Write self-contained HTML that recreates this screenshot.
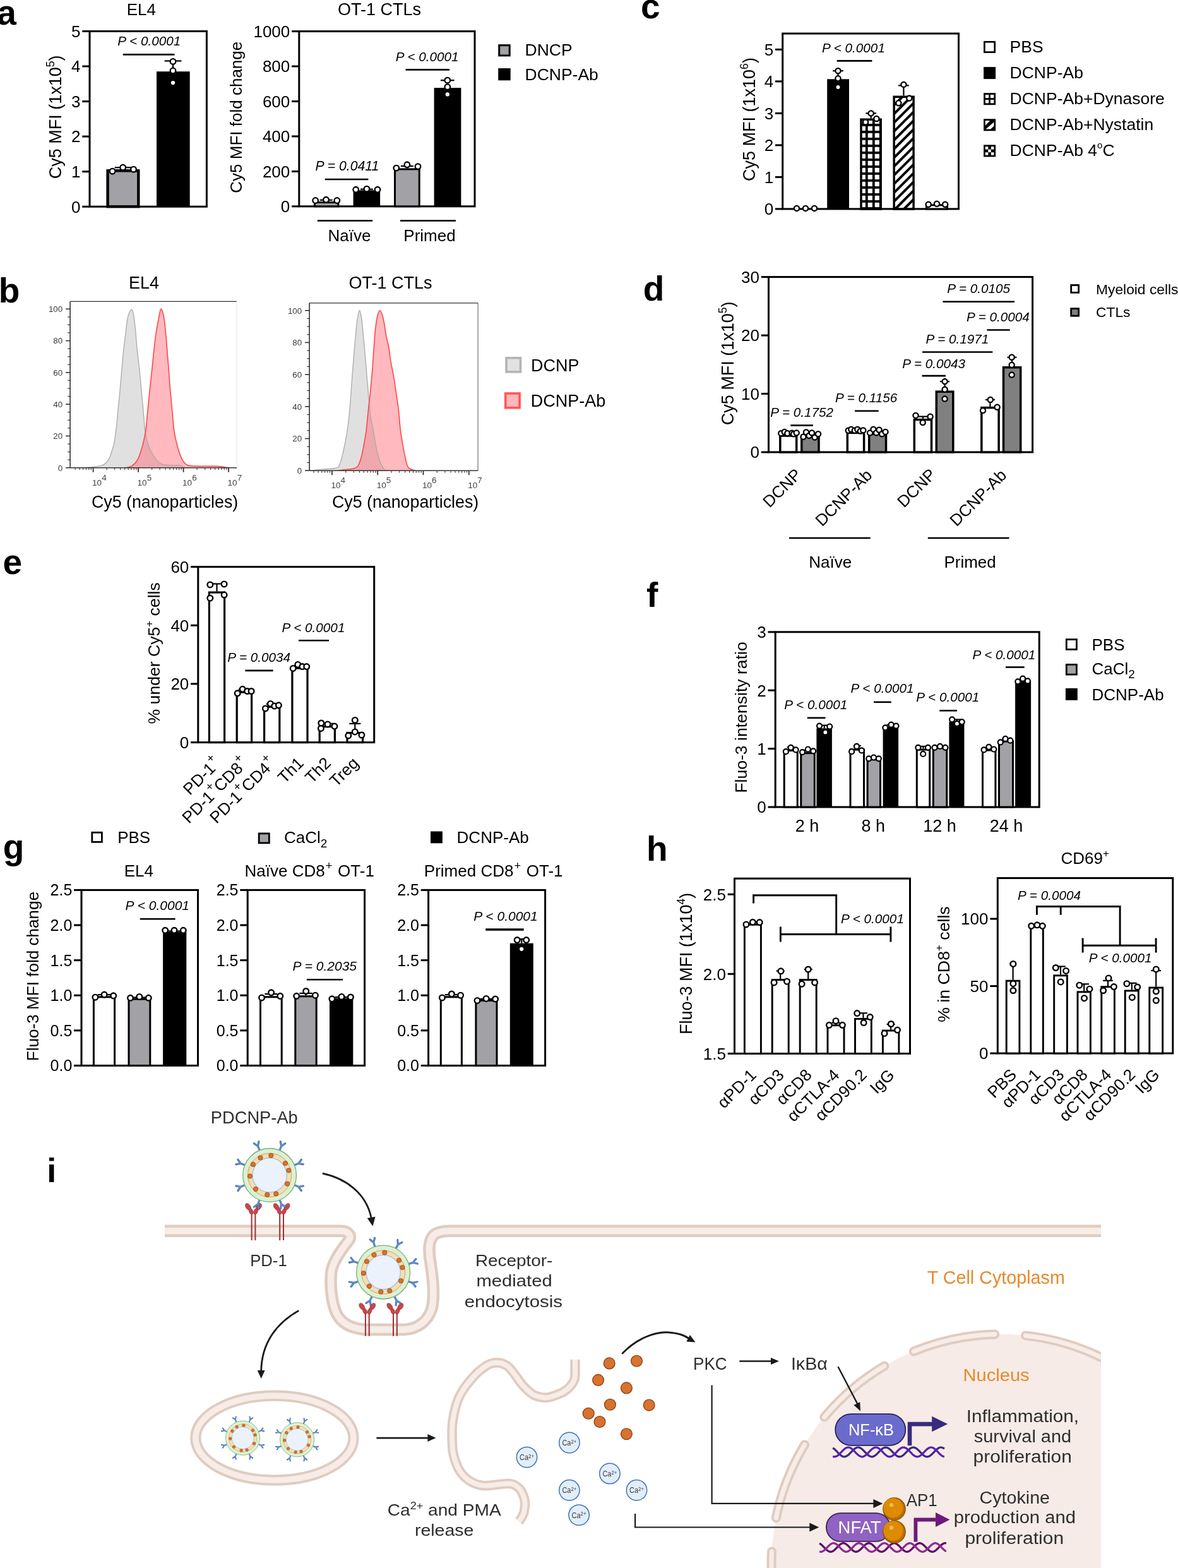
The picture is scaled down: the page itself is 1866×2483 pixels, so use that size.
<!DOCTYPE html>
<html><head><meta charset="utf-8"><style>
html,body{margin:0;padding:0;background:#fff;}
svg{display:block;}
text{font-family:'Liberation Sans', Arial, sans-serif;}
</style></head><body>
<svg width="1866" height="2483" viewBox="0 0 1866 2483">
<rect width="1866" height="2483" fill="#fff"/>
<defs>
<pattern id="grid" patternUnits="userSpaceOnUse" width="11" height="11" x="1361.8" y="197.9">
<rect width="11" height="11" fill="#000"/>
<rect x="1.9" y="1.9" width="7.2" height="7.2" fill="#fff"/>
</pattern>
<pattern id="hatch" patternUnits="userSpaceOnUse" width="9.8" height="9.8" patternTransform="rotate(-45)">
<rect width="9.8" height="9.8" fill="#fff"/>
<rect width="9.8" height="3.9" fill="#000"/>
</pattern>
<pattern id="check" patternUnits="userSpaceOnUse" width="6" height="6">
<rect width="6" height="6" fill="#fff"/>
<rect width="3" height="3" fill="#000"/><rect x="3" y="3" width="3" height="3" fill="#000"/>
</pattern>
</defs>
<text x="-4.8" y="39.3" font-size="55" font-weight="bold" >a</text>
<text x="1015.0" y="29.4" font-size="55" font-weight="bold" >c</text>
<text x="-2.3" y="479.4" font-size="55" font-weight="bold" >b</text>
<text x="1018.7" y="476.3" font-size="55" font-weight="bold" >d</text>
<text x="4.6" y="909.3" font-size="55" font-weight="bold" >e</text>
<text x="1023.9" y="960.9" font-size="55" font-weight="bold" >f</text>
<text x="4.7" y="1359.7" font-size="55" font-weight="bold" >g</text>
<text x="1024.1" y="1362.9" font-size="55" font-weight="bold" >h</text>
<text x="74.3" y="1871.9" font-size="54" font-weight="bold" >i</text>
<rect x="142.0" y="49.5" width="185.4" height="277.7" fill="none" stroke="#000" stroke-width="3"/>
<line x1="130.3" y1="327.2" x2="142.0" y2="327.2" stroke="#000" stroke-width="3" stroke-linecap="butt"/>
<text x="127.5" y="336.5" font-size="26" text-anchor="end" >0</text>
<line x1="130.3" y1="271.7" x2="142.0" y2="271.7" stroke="#000" stroke-width="3" stroke-linecap="butt"/>
<text x="127.5" y="281.0" font-size="26" text-anchor="end" >1</text>
<line x1="130.3" y1="216.1" x2="142.0" y2="216.1" stroke="#000" stroke-width="3" stroke-linecap="butt"/>
<text x="127.5" y="225.4" font-size="26" text-anchor="end" >2</text>
<line x1="130.3" y1="160.6" x2="142.0" y2="160.6" stroke="#000" stroke-width="3" stroke-linecap="butt"/>
<text x="127.5" y="169.9" font-size="26" text-anchor="end" >3</text>
<line x1="130.3" y1="105.0" x2="142.0" y2="105.0" stroke="#000" stroke-width="3" stroke-linecap="butt"/>
<text x="127.5" y="114.3" font-size="26" text-anchor="end" >4</text>
<line x1="130.3" y1="49.5" x2="142.0" y2="49.5" stroke="#000" stroke-width="3" stroke-linecap="butt"/>
<text x="127.5" y="58.8" font-size="26" text-anchor="end" >5</text>
<rect x="170.6" y="270.3" width="48.7" height="56.9" fill="#a2a1a6" stroke="#000" stroke-width="4.4"/>
<line x1="194.7" y1="268.1" x2="194.7" y2="265.3" stroke="#000" stroke-width="2.2" stroke-linecap="butt"/>
<line x1="181.7" y1="265.3" x2="207.7" y2="265.3" stroke="#000" stroke-width="2.2" stroke-linecap="butt"/>
<circle cx="178.1" cy="271.2" r="4.3" fill="#fff" stroke="#000" stroke-width="2.3"/>
<circle cx="194.7" cy="265.2" r="4.3" fill="#fff" stroke="#000" stroke-width="2.3"/>
<circle cx="211.5" cy="268.2" r="4.3" fill="#fff" stroke="#000" stroke-width="2.3"/>
<rect x="248.0" y="113.2" width="52.7" height="214.0" fill="#000"/>
<line x1="274.0" y1="113.2" x2="274.0" y2="96.5" stroke="#000" stroke-width="2.2" stroke-linecap="butt"/>
<line x1="260.6" y1="96.5" x2="287.4" y2="96.5" stroke="#000" stroke-width="2.2" stroke-linecap="butt"/>
<circle cx="274.0" cy="97.4" r="4.3" fill="#fff" stroke="#000" stroke-width="2.3"/>
<circle cx="274.0" cy="112.0" r="4.3" fill="#fff" stroke="#000" stroke-width="2.3"/>
<circle cx="274.0" cy="131.1" r="4.3" fill="#fff" stroke="#000" stroke-width="2.3"/>
<line x1="194.8" y1="86.4" x2="276.5" y2="86.4" stroke="#000" stroke-width="2.6" stroke-linecap="butt"/>
<text x="186.3" y="72.4" font-size="20.7" font-style="italic" >P &lt; 0.0001</text>
<text x="200.7" y="24.4" font-size="26"  >EL4</text>
<text x="97" y="185.4" font-size="27" text-anchor="middle" transform="rotate(-90 97 185.4)">Cy5 MFI (1x10<tspan font-size="17.6" dy="-11.4">5</tspan><tspan dy="11.4">)</tspan></text>
<rect x="473.8" y="49.6" width="278.2" height="277.2" fill="none" stroke="#000" stroke-width="3"/>
<line x1="462.1" y1="326.8" x2="473.8" y2="326.8" stroke="#000" stroke-width="3" stroke-linecap="butt"/>
<text x="459.3" y="336.1" font-size="26" text-anchor="end" >0</text>
<line x1="462.1" y1="271.4" x2="473.8" y2="271.4" stroke="#000" stroke-width="3" stroke-linecap="butt"/>
<text x="459.3" y="280.7" font-size="26" text-anchor="end" >200</text>
<line x1="462.1" y1="215.9" x2="473.8" y2="215.9" stroke="#000" stroke-width="3" stroke-linecap="butt"/>
<text x="459.3" y="225.2" font-size="26" text-anchor="end" >400</text>
<line x1="462.1" y1="160.5" x2="473.8" y2="160.5" stroke="#000" stroke-width="3" stroke-linecap="butt"/>
<text x="459.3" y="169.8" font-size="26" text-anchor="end" >600</text>
<line x1="462.1" y1="105.0" x2="473.8" y2="105.0" stroke="#000" stroke-width="3" stroke-linecap="butt"/>
<text x="459.3" y="114.3" font-size="26" text-anchor="end" >800</text>
<line x1="462.1" y1="49.6" x2="473.8" y2="49.6" stroke="#000" stroke-width="3" stroke-linecap="butt"/>
<text x="459.3" y="58.9" font-size="26" text-anchor="end" >1000</text>
<rect x="498.4" y="320.5" width="37.5" height="6.3" fill="#a2a1a6" stroke="#000" stroke-width="3.0"/>
<rect x="559.6" y="301.3" width="42.5" height="25.5" fill="#000"/>
<rect x="625.5" y="267.9" width="38.7" height="58.9" fill="#a2a1a6" stroke="#000" stroke-width="3.0"/>
<rect x="687.6" y="139.1" width="42.8" height="187.7" fill="#000"/>
<line x1="516.6" y1="319.0" x2="516.6" y2="316.8" stroke="#000" stroke-width="2.2" stroke-linecap="butt"/>
<line x1="506.6" y1="316.8" x2="526.6" y2="316.8" stroke="#000" stroke-width="2.2" stroke-linecap="butt"/>
<circle cx="499.7" cy="317.5" r="4.3" fill="#fff" stroke="#000" stroke-width="2.3"/>
<circle cx="516.5" cy="316.3" r="4.3" fill="#fff" stroke="#000" stroke-width="2.3"/>
<circle cx="533.8" cy="317.5" r="4.3" fill="#fff" stroke="#000" stroke-width="2.3"/>
<line x1="580.9" y1="301.3" x2="580.9" y2="299.6" stroke="#000" stroke-width="2.2" stroke-linecap="butt"/>
<line x1="570.9" y1="299.6" x2="590.9" y2="299.6" stroke="#000" stroke-width="2.2" stroke-linecap="butt"/>
<circle cx="563.7" cy="300.3" r="4.3" fill="#fff" stroke="#000" stroke-width="2.3"/>
<circle cx="580.9" cy="299.2" r="4.3" fill="#fff" stroke="#000" stroke-width="2.3"/>
<circle cx="598.0" cy="300.3" r="4.3" fill="#fff" stroke="#000" stroke-width="2.3"/>
<line x1="644.9" y1="266.4" x2="644.9" y2="263.0" stroke="#000" stroke-width="2.2" stroke-linecap="butt"/>
<line x1="634.9" y1="263.0" x2="654.9" y2="263.0" stroke="#000" stroke-width="2.2" stroke-linecap="butt"/>
<circle cx="627.8" cy="266.1" r="4.3" fill="#fff" stroke="#000" stroke-width="2.3"/>
<circle cx="644.9" cy="260.8" r="4.3" fill="#fff" stroke="#000" stroke-width="2.3"/>
<circle cx="662.0" cy="263.6" r="4.3" fill="#fff" stroke="#000" stroke-width="2.3"/>
<line x1="708.8" y1="139.1" x2="708.8" y2="127.2" stroke="#000" stroke-width="2.2" stroke-linecap="butt"/>
<line x1="698.0" y1="127.2" x2="719.6" y2="127.2" stroke="#000" stroke-width="2.2" stroke-linecap="butt"/>
<circle cx="708.8" cy="127.2" r="4.3" fill="#fff" stroke="#000" stroke-width="2.3"/>
<circle cx="708.8" cy="137.7" r="4.3" fill="#fff" stroke="#000" stroke-width="2.3"/>
<circle cx="708.8" cy="149.4" r="4.3" fill="#fff" stroke="#000" stroke-width="2.3"/>
<line x1="514.7" y1="284.0" x2="583.4" y2="284.0" stroke="#000" stroke-width="2.6" stroke-linecap="butt"/>
<text x="499.6" y="270.0" font-size="21.2" font-style="italic" >P = 0.0411</text>
<line x1="642.6" y1="110.4" x2="712.1" y2="110.4" stroke="#000" stroke-width="2.6" stroke-linecap="butt"/>
<text x="626.7" y="96.5" font-size="20.7" font-style="italic" >P &lt; 0.0001</text>
<line x1="502.8" y1="349.5" x2="590.2" y2="349.5" stroke="#000" stroke-width="2.6" stroke-linecap="butt"/>
<line x1="633.9" y1="349.5" x2="722.0" y2="349.5" stroke="#000" stroke-width="2.6" stroke-linecap="butt"/>
<text x="553.5" y="382.0" font-size="26" text-anchor="middle" >Naïve</text>
<text x="680.5" y="382.0" font-size="26" text-anchor="middle" >Primed</text>
<text x="601.0" y="23.8" font-size="27" text-anchor="middle" >OT-1 CTLs</text>
<text x="383" y="185.7" font-size="26" text-anchor="middle" transform="rotate(-90 383 185.7)">Cy5 MFI fold change</text>
<rect x="790.7" y="71.7" width="16.5" height="16.2" fill="#a2a1a6" stroke="#000" stroke-width="3" />
<text x="831.5" y="88.0" font-size="26.5"  >DNCP</text>
<rect x="789.2" y="108.1" width="19.5" height="19.2" fill="#000" />
<text x="831.5" y="126.7" font-size="26.5"  >DCNP-Ab</text>
<rect x="1239.7" y="53.1" width="278.8" height="277.8" fill="none" stroke="#000" stroke-width="3"/>
<line x1="1228.0" y1="330.9" x2="1239.7" y2="330.9" stroke="#000" stroke-width="3" stroke-linecap="butt"/>
<text x="1225.2" y="340.2" font-size="26" text-anchor="end" >0</text>
<line x1="1228.0" y1="280.4" x2="1239.7" y2="280.4" stroke="#000" stroke-width="3" stroke-linecap="butt"/>
<text x="1225.2" y="289.7" font-size="26" text-anchor="end" >1</text>
<line x1="1228.0" y1="229.9" x2="1239.7" y2="229.9" stroke="#000" stroke-width="3" stroke-linecap="butt"/>
<text x="1225.2" y="239.2" font-size="26" text-anchor="end" >2</text>
<line x1="1228.0" y1="179.4" x2="1239.7" y2="179.4" stroke="#000" stroke-width="3" stroke-linecap="butt"/>
<text x="1225.2" y="188.7" font-size="26" text-anchor="end" >3</text>
<line x1="1228.0" y1="128.9" x2="1239.7" y2="128.9" stroke="#000" stroke-width="3" stroke-linecap="butt"/>
<text x="1225.2" y="138.2" font-size="26" text-anchor="end" >4</text>
<line x1="1228.0" y1="78.4" x2="1239.7" y2="78.4" stroke="#000" stroke-width="3" stroke-linecap="butt"/>
<text x="1225.2" y="87.7" font-size="26" text-anchor="end" >5</text>
<circle cx="1262.0" cy="329.9" r="4.1" fill="#fff" stroke="#000" stroke-width="2.3"/>
<circle cx="1276.0" cy="329.9" r="4.1" fill="#fff" stroke="#000" stroke-width="2.3"/>
<circle cx="1290.0" cy="329.9" r="4.1" fill="#fff" stroke="#000" stroke-width="2.3"/>
<rect x="1310.2" y="125.3" width="34.8" height="205.6" fill="#000"/>
<line x1="1327.5" y1="125.3" x2="1327.5" y2="112.2" stroke="#000" stroke-width="2.2" stroke-linecap="butt"/>
<line x1="1319.2" y1="112.2" x2="1335.8" y2="112.2" stroke="#000" stroke-width="2.2" stroke-linecap="butt"/>
<circle cx="1327.5" cy="112.2" r="4.1" fill="#fff" stroke="#000" stroke-width="2.3"/>
<circle cx="1327.5" cy="124.3" r="4.1" fill="#fff" stroke="#000" stroke-width="2.3"/>
<circle cx="1327.5" cy="138.0" r="4.1" fill="#fff" stroke="#000" stroke-width="2.3"/>
<rect x="1364.0" y="189.2" width="31.2" height="141.7" fill="url(#grid)" stroke="#000" stroke-width="3.5"/>
<line x1="1379.7" y1="187.5" x2="1379.7" y2="179.4" stroke="#000" stroke-width="2.2" stroke-linecap="butt"/>
<line x1="1371.4" y1="179.4" x2="1388.0" y2="179.4" stroke="#000" stroke-width="2.2" stroke-linecap="butt"/>
<circle cx="1379.7" cy="179.4" r="4.1" fill="#fff" stroke="#000" stroke-width="2.3"/>
<circle cx="1371.1" cy="193.5" r="4.1" fill="#fff" stroke="#000" stroke-width="2.3"/>
<circle cx="1388.4" cy="188.0" r="4.1" fill="#fff" stroke="#000" stroke-width="2.3"/>
<rect x="1416.2" y="153.3" width="30.9" height="177.6" fill="url(#hatch)" stroke="#000" stroke-width="3.5"/>
<line x1="1431.4" y1="151.6" x2="1431.4" y2="135.4" stroke="#000" stroke-width="2.2" stroke-linecap="butt"/>
<line x1="1423.1" y1="135.4" x2="1439.7" y2="135.4" stroke="#000" stroke-width="2.2" stroke-linecap="butt"/>
<circle cx="1431.4" cy="133.9" r="4.1" fill="#fff" stroke="#000" stroke-width="2.3"/>
<circle cx="1423.4" cy="163.2" r="4.1" fill="#fff" stroke="#000" stroke-width="2.3"/>
<circle cx="1440.3" cy="155.6" r="4.1" fill="#fff" stroke="#000" stroke-width="2.3"/>
<rect x="1467.5" y="324.8" width="33.0" height="6.1" fill="#fff" stroke="#000" stroke-width="3"/>
<circle cx="1470.7" cy="323.8" r="4.1" fill="#fff" stroke="#000" stroke-width="2.3"/>
<circle cx="1484.0" cy="322.8" r="4.1" fill="#fff" stroke="#000" stroke-width="2.3"/>
<circle cx="1497.2" cy="323.8" r="4.1" fill="#fff" stroke="#000" stroke-width="2.3"/>
<line x1="1325.7" y1="96.4" x2="1381.4" y2="96.4" stroke="#000" stroke-width="2.6" stroke-linecap="butt"/>
<text x="1302.0" y="83.4" font-size="20.7" font-style="italic" >P &lt; 0.0001</text>
<text x="1196" y="189" font-size="27" text-anchor="middle" transform="rotate(-90 1196 189)">Cy5 MFI (1x10<tspan font-size="17.6" dy="-11.4">6</tspan><tspan dy="11.4">)</tspan></text>
<rect x="1559.4" y="66.3" width="16.3" height="16.3" fill="#fff" stroke="#000" stroke-width="2.7" />
<text x="1599.6" y="82.6" font-size="26.5"  >PBS</text>
<rect x="1558.1" y="106.1" width="19.0" height="19.0" fill="#000" />
<text x="1599.6" y="123.7" font-size="26.5"  >DCNP-Ab</text>
<rect x="1558.1" y="147.2" width="19.0" height="19.0" fill="#000" />
<rect x="1560.9" y="150.0" width="5.2" height="5.2" fill="#fff" />
<rect x="1560.9" y="158.0" width="5.2" height="5.4" fill="#fff" />
<rect x="1568.9" y="150.0" width="5.4" height="5.2" fill="#fff" />
<rect x="1568.9" y="158.0" width="5.4" height="5.4" fill="#fff" />
<text x="1599.6" y="164.8" font-size="26.5"  >DCNP-Ab+Dynasore</text>
<rect x="1558.1" y="188.3" width="19.0" height="19.0" fill="#000" />
<path d="M1560.8 191.0H1568.1L1560.8 198.8Z M1574.4 193.3V199.8L1569.1 204.6H1561.6Z" fill="#fff"/>
<text x="1599.6" y="205.9" font-size="26.5"  >DCNP-Ab+Nystatin</text>
<rect x="1558.1" y="229.4" width="19.0" height="19.0" fill="#000" />
<rect x="1560.8" y="232.1" width="4.5" height="4.5" fill="#fff" />
<rect x="1569.9" y="232.1" width="4.5" height="4.5" fill="#fff" />
<rect x="1565.3" y="236.6" width="4.5" height="4.5" fill="#fff" />
<rect x="1560.8" y="241.2" width="4.5" height="4.5" fill="#fff" />
<rect x="1569.9" y="241.2" width="4.5" height="4.5" fill="#fff" />
<text x="1599.6" y="247.0" font-size="26.5">DCNP-Ab 4<tspan font-size="15" dy="-12">o</tspan><tspan dy="12">C</tspan></text>
<path d="M117.00 740.70 C121.13 740.57 134.25 740.62 141.80 739.95 C149.35 739.28 157.35 738.56 162.30 736.68 C167.25 734.79 169.12 732.03 171.50 728.63 C173.88 725.24 175.07 720.76 176.60 716.31 C178.13 711.87 179.50 707.77 180.70 701.98 C181.90 696.20 182.78 690.13 183.80 681.62 C184.82 673.12 185.78 661.22 186.80 650.95 C187.82 640.68 188.70 633.14 189.90 620.03 C191.10 606.91 192.98 583.58 194.00 572.26 C195.02 560.95 195.15 559.69 196.00 552.15 C196.85 544.61 198.23 534.13 199.10 527.01 C199.97 519.89 200.52 514.02 201.20 509.41 C201.88 504.80 202.12 502.50 203.20 499.36 C204.28 496.21 206.33 490.98 207.70 490.56 C209.07 490.14 210.27 491.60 211.40 496.84 C212.53 502.08 213.55 512.76 214.50 521.98 C215.45 531.20 216.08 542.09 217.10 552.15 C218.12 562.21 219.50 571.84 220.60 582.32 C221.70 592.79 222.68 604.11 223.70 615.00 C224.72 625.89 225.68 636.58 226.70 647.68 C227.72 658.79 228.60 672.57 229.80 681.62 C231.00 690.67 232.20 696.20 233.90 701.98 C235.60 707.77 237.62 711.87 240.00 716.31 C242.38 720.76 245.47 725.53 248.20 728.63 C250.93 731.73 252.98 733.58 256.40 734.92 C259.82 736.26 263.93 736.34 268.70 736.68 C273.47 737.01 281.25 736.38 285.00 736.93 C288.75 737.47 288.70 739.32 291.20 739.95 C293.70 740.57 298.53 740.57 300.00 740.70 L300.0 740.7 L117.0 740.7Z" fill="#e0e0e0"/>
<path d="M199.10 740.70 C200.80 740.20 206.23 739.69 209.30 737.68 C212.37 735.67 215.28 732.19 217.50 728.63 C219.72 725.07 221.07 720.76 222.60 716.31 C224.13 711.87 225.33 707.77 226.70 701.98 C228.07 696.20 229.60 690.13 230.80 681.62 C232.00 673.12 232.87 661.22 233.90 650.95 C234.93 640.68 235.82 631.47 237.00 620.03 C238.18 608.59 239.82 593.63 241.00 582.32 C242.18 571.00 243.07 561.37 244.10 552.15 C245.13 542.93 246.00 534.97 247.20 527.01 C248.40 519.05 250.00 510.67 251.30 504.38 C252.60 498.10 253.63 489.72 255.00 489.30 C256.37 488.88 258.25 495.59 259.50 501.87 C260.75 508.15 261.65 518.63 262.50 527.01 C263.35 535.39 263.85 542.93 264.60 552.15 C265.35 561.37 266.15 571.42 267.00 582.32 C267.85 593.21 268.73 606.08 269.70 617.51 C270.67 628.95 271.78 640.27 272.80 650.95 C273.82 661.63 274.62 673.12 275.80 681.62 C276.98 690.13 278.53 696.20 279.90 701.98 C281.27 707.77 282.47 711.87 284.00 716.31 C285.53 720.76 286.88 725.24 289.10 728.63 C291.32 732.03 292.87 735.09 297.30 736.68 C301.73 738.27 308.20 737.93 315.70 738.19 C323.20 738.44 336.15 738.02 342.30 738.19 C348.45 738.35 349.18 738.77 352.60 739.19 C356.02 739.61 361.10 740.45 362.80 740.70 L362.8 740.7 L199.1 740.7Z" fill="#ff6470" fill-opacity="0.45"/>
<path d="M117.00 740.70 C121.13 740.57 134.25 740.62 141.80 739.95 C149.35 739.28 157.35 738.56 162.30 736.68 C167.25 734.79 169.12 732.03 171.50 728.63 C173.88 725.24 175.07 720.76 176.60 716.31 C178.13 711.87 179.50 707.77 180.70 701.98 C181.90 696.20 182.78 690.13 183.80 681.62 C184.82 673.12 185.78 661.22 186.80 650.95 C187.82 640.68 188.70 633.14 189.90 620.03 C191.10 606.91 192.98 583.58 194.00 572.26 C195.02 560.95 195.15 559.69 196.00 552.15 C196.85 544.61 198.23 534.13 199.10 527.01 C199.97 519.89 200.52 514.02 201.20 509.41 C201.88 504.80 202.12 502.50 203.20 499.36 C204.28 496.21 206.33 490.98 207.70 490.56 C209.07 490.14 210.27 491.60 211.40 496.84 C212.53 502.08 213.55 512.76 214.50 521.98 C215.45 531.20 216.08 542.09 217.10 552.15 C218.12 562.21 219.50 571.84 220.60 582.32 C221.70 592.79 222.68 604.11 223.70 615.00 C224.72 625.89 225.68 636.58 226.70 647.68 C227.72 658.79 228.60 672.57 229.80 681.62 C231.00 690.67 232.20 696.20 233.90 701.98 C235.60 707.77 237.62 711.87 240.00 716.31 C242.38 720.76 245.47 725.53 248.20 728.63 C250.93 731.73 252.98 733.58 256.40 734.92 C259.82 736.26 263.93 736.34 268.70 736.68 C273.47 737.01 281.25 736.38 285.00 736.93 C288.75 737.47 288.70 739.32 291.20 739.95 C293.70 740.57 298.53 740.57 300.00 740.70" fill="none" stroke="#aaa" stroke-width="1.3" stroke-linejoin="round"/>
<path d="M199.10 740.70 C200.80 740.20 206.23 739.69 209.30 737.68 C212.37 735.67 215.28 732.19 217.50 728.63 C219.72 725.07 221.07 720.76 222.60 716.31 C224.13 711.87 225.33 707.77 226.70 701.98 C228.07 696.20 229.60 690.13 230.80 681.62 C232.00 673.12 232.87 661.22 233.90 650.95 C234.93 640.68 235.82 631.47 237.00 620.03 C238.18 608.59 239.82 593.63 241.00 582.32 C242.18 571.00 243.07 561.37 244.10 552.15 C245.13 542.93 246.00 534.97 247.20 527.01 C248.40 519.05 250.00 510.67 251.30 504.38 C252.60 498.10 253.63 489.72 255.00 489.30 C256.37 488.88 258.25 495.59 259.50 501.87 C260.75 508.15 261.65 518.63 262.50 527.01 C263.35 535.39 263.85 542.93 264.60 552.15 C265.35 561.37 266.15 571.42 267.00 582.32 C267.85 593.21 268.73 606.08 269.70 617.51 C270.67 628.95 271.78 640.27 272.80 650.95 C273.82 661.63 274.62 673.12 275.80 681.62 C276.98 690.13 278.53 696.20 279.90 701.98 C281.27 707.77 282.47 711.87 284.00 716.31 C285.53 720.76 286.88 725.24 289.10 728.63 C291.32 732.03 292.87 735.09 297.30 736.68 C301.73 738.27 308.20 737.93 315.70 738.19 C323.20 738.44 336.15 738.02 342.30 738.19 C348.45 738.35 349.18 738.77 352.60 739.19 C356.02 739.61 361.10 740.45 362.80 740.70" fill="none" stroke="#ff4040" stroke-width="1.5" stroke-linejoin="round"/>
<line x1="111.1" y1="477.4" x2="375.0" y2="477.4" stroke="#333" stroke-width="1.3" stroke-linecap="butt"/>
<line x1="375.0" y1="477.4" x2="375.0" y2="740.7" stroke="#e4e4e4" stroke-width="1.0" stroke-linecap="butt"/>
<line x1="111.1" y1="740.7" x2="375.0" y2="740.7" stroke="#333" stroke-width="1.6" stroke-linecap="butt"/>
<line x1="111.1" y1="477.4" x2="111.1" y2="740.7" stroke="#333" stroke-width="1.6" stroke-linecap="butt"/>
<line x1="104.1" y1="740.7" x2="111.1" y2="740.7" stroke="#333" stroke-width="1.6" stroke-linecap="butt"/>
<text x="99.1" y="745.5" font-size="13.3" text-anchor="end" fill="#3a3a3a" >0</text>
<line x1="107.3" y1="728.1" x2="111.1" y2="728.1" stroke="#333" stroke-width="1.2" stroke-linecap="butt"/>
<line x1="107.3" y1="715.6" x2="111.1" y2="715.6" stroke="#333" stroke-width="1.2" stroke-linecap="butt"/>
<line x1="107.3" y1="703.0" x2="111.1" y2="703.0" stroke="#333" stroke-width="1.2" stroke-linecap="butt"/>
<line x1="104.1" y1="690.4" x2="111.1" y2="690.4" stroke="#333" stroke-width="1.6" stroke-linecap="butt"/>
<text x="99.1" y="695.2" font-size="13.3" text-anchor="end" fill="#3a3a3a" >20</text>
<line x1="107.3" y1="677.9" x2="111.1" y2="677.9" stroke="#333" stroke-width="1.2" stroke-linecap="butt"/>
<line x1="107.3" y1="665.3" x2="111.1" y2="665.3" stroke="#333" stroke-width="1.2" stroke-linecap="butt"/>
<line x1="107.3" y1="652.7" x2="111.1" y2="652.7" stroke="#333" stroke-width="1.2" stroke-linecap="butt"/>
<line x1="104.1" y1="640.1" x2="111.1" y2="640.1" stroke="#333" stroke-width="1.6" stroke-linecap="butt"/>
<text x="99.1" y="644.9" font-size="13.3" text-anchor="end" fill="#3a3a3a" >40</text>
<line x1="107.3" y1="627.6" x2="111.1" y2="627.6" stroke="#333" stroke-width="1.2" stroke-linecap="butt"/>
<line x1="107.3" y1="615.0" x2="111.1" y2="615.0" stroke="#333" stroke-width="1.2" stroke-linecap="butt"/>
<line x1="107.3" y1="602.4" x2="111.1" y2="602.4" stroke="#333" stroke-width="1.2" stroke-linecap="butt"/>
<line x1="104.1" y1="589.9" x2="111.1" y2="589.9" stroke="#333" stroke-width="1.6" stroke-linecap="butt"/>
<text x="99.1" y="594.7" font-size="13.3" text-anchor="end" fill="#3a3a3a" >60</text>
<line x1="107.3" y1="577.3" x2="111.1" y2="577.3" stroke="#333" stroke-width="1.2" stroke-linecap="butt"/>
<line x1="107.3" y1="564.7" x2="111.1" y2="564.7" stroke="#333" stroke-width="1.2" stroke-linecap="butt"/>
<line x1="107.3" y1="552.1" x2="111.1" y2="552.1" stroke="#333" stroke-width="1.2" stroke-linecap="butt"/>
<line x1="104.1" y1="539.6" x2="111.1" y2="539.6" stroke="#333" stroke-width="1.6" stroke-linecap="butt"/>
<text x="99.1" y="544.4" font-size="13.3" text-anchor="end" fill="#3a3a3a" >80</text>
<line x1="107.3" y1="527.0" x2="111.1" y2="527.0" stroke="#333" stroke-width="1.2" stroke-linecap="butt"/>
<line x1="107.3" y1="514.4" x2="111.1" y2="514.4" stroke="#333" stroke-width="1.2" stroke-linecap="butt"/>
<line x1="107.3" y1="501.9" x2="111.1" y2="501.9" stroke="#333" stroke-width="1.2" stroke-linecap="butt"/>
<line x1="104.1" y1="489.3" x2="111.1" y2="489.3" stroke="#333" stroke-width="1.6" stroke-linecap="butt"/>
<text x="99.1" y="494.1" font-size="13.3" text-anchor="end" fill="#3a3a3a" >100</text>
<line x1="119.1" y1="740.7" x2="119.1" y2="744.2" stroke="#444" stroke-width="1.2" stroke-linecap="butt"/>
<line x1="126.1" y1="740.7" x2="126.1" y2="744.2" stroke="#444" stroke-width="1.2" stroke-linecap="butt"/>
<line x1="131.7" y1="740.7" x2="131.7" y2="744.2" stroke="#444" stroke-width="1.2" stroke-linecap="butt"/>
<line x1="136.5" y1="740.7" x2="136.5" y2="744.2" stroke="#444" stroke-width="1.2" stroke-linecap="butt"/>
<line x1="140.7" y1="740.7" x2="140.7" y2="744.2" stroke="#444" stroke-width="1.2" stroke-linecap="butt"/>
<line x1="144.3" y1="740.7" x2="144.3" y2="744.2" stroke="#444" stroke-width="1.2" stroke-linecap="butt"/>
<line x1="147.6" y1="740.7" x2="147.6" y2="747.7" stroke="#333" stroke-width="1.8" stroke-linecap="butt"/>
<line x1="169.1" y1="740.7" x2="169.1" y2="744.2" stroke="#444" stroke-width="1.2" stroke-linecap="butt"/>
<line x1="181.7" y1="740.7" x2="181.7" y2="744.2" stroke="#444" stroke-width="1.2" stroke-linecap="butt"/>
<line x1="190.6" y1="740.7" x2="190.6" y2="744.2" stroke="#444" stroke-width="1.2" stroke-linecap="butt"/>
<line x1="197.6" y1="740.7" x2="197.6" y2="744.2" stroke="#444" stroke-width="1.2" stroke-linecap="butt"/>
<line x1="203.2" y1="740.7" x2="203.2" y2="744.2" stroke="#444" stroke-width="1.2" stroke-linecap="butt"/>
<line x1="208.0" y1="740.7" x2="208.0" y2="744.2" stroke="#444" stroke-width="1.2" stroke-linecap="butt"/>
<line x1="212.2" y1="740.7" x2="212.2" y2="744.2" stroke="#444" stroke-width="1.2" stroke-linecap="butt"/>
<line x1="215.8" y1="740.7" x2="215.8" y2="744.2" stroke="#444" stroke-width="1.2" stroke-linecap="butt"/>
<line x1="219.1" y1="740.7" x2="219.1" y2="747.7" stroke="#333" stroke-width="1.8" stroke-linecap="butt"/>
<line x1="240.6" y1="740.7" x2="240.6" y2="744.2" stroke="#444" stroke-width="1.2" stroke-linecap="butt"/>
<line x1="253.2" y1="740.7" x2="253.2" y2="744.2" stroke="#444" stroke-width="1.2" stroke-linecap="butt"/>
<line x1="262.1" y1="740.7" x2="262.1" y2="744.2" stroke="#444" stroke-width="1.2" stroke-linecap="butt"/>
<line x1="269.1" y1="740.7" x2="269.1" y2="744.2" stroke="#444" stroke-width="1.2" stroke-linecap="butt"/>
<line x1="274.7" y1="740.7" x2="274.7" y2="744.2" stroke="#444" stroke-width="1.2" stroke-linecap="butt"/>
<line x1="279.5" y1="740.7" x2="279.5" y2="744.2" stroke="#444" stroke-width="1.2" stroke-linecap="butt"/>
<line x1="283.7" y1="740.7" x2="283.7" y2="744.2" stroke="#444" stroke-width="1.2" stroke-linecap="butt"/>
<line x1="287.3" y1="740.7" x2="287.3" y2="744.2" stroke="#444" stroke-width="1.2" stroke-linecap="butt"/>
<line x1="290.6" y1="740.7" x2="290.6" y2="747.7" stroke="#333" stroke-width="1.8" stroke-linecap="butt"/>
<line x1="312.1" y1="740.7" x2="312.1" y2="744.2" stroke="#444" stroke-width="1.2" stroke-linecap="butt"/>
<line x1="324.7" y1="740.7" x2="324.7" y2="744.2" stroke="#444" stroke-width="1.2" stroke-linecap="butt"/>
<line x1="333.6" y1="740.7" x2="333.6" y2="744.2" stroke="#444" stroke-width="1.2" stroke-linecap="butt"/>
<line x1="340.6" y1="740.7" x2="340.6" y2="744.2" stroke="#444" stroke-width="1.2" stroke-linecap="butt"/>
<line x1="346.2" y1="740.7" x2="346.2" y2="744.2" stroke="#444" stroke-width="1.2" stroke-linecap="butt"/>
<line x1="351.0" y1="740.7" x2="351.0" y2="744.2" stroke="#444" stroke-width="1.2" stroke-linecap="butt"/>
<line x1="355.2" y1="740.7" x2="355.2" y2="744.2" stroke="#444" stroke-width="1.2" stroke-linecap="butt"/>
<line x1="358.8" y1="740.7" x2="358.8" y2="744.2" stroke="#444" stroke-width="1.2" stroke-linecap="butt"/>
<line x1="362.1" y1="740.7" x2="362.1" y2="747.7" stroke="#333" stroke-width="1.8" stroke-linecap="butt"/>
<text x="146.1" y="768.7" font-size="13.5" fill="#444">10<tspan font-size="13.5" dy="-8">4</tspan></text>
<text x="217.6" y="768.7" font-size="13.5" fill="#444">10<tspan font-size="13.5" dy="-8">5</tspan></text>
<text x="289.1" y="768.7" font-size="13.5" fill="#444">10<tspan font-size="13.5" dy="-8">6</tspan></text>
<text x="360.6" y="768.7" font-size="13.5" fill="#444">10<tspan font-size="13.5" dy="-8">7</tspan></text>
<text x="144.9" y="804.2" font-size="26.8"  >Cy5 (nanoparticles)</text>
<text x="228.0" y="457.3" font-size="27" text-anchor="middle" >EL4</text>
<path d="M491.00 745.20 C492.73 745.03 497.97 744.52 501.40 744.19 C504.83 743.85 506.48 743.68 511.60 743.17 C516.72 742.66 527.67 742.50 532.10 741.14 C536.53 739.79 536.17 739.83 538.20 735.06 C540.23 730.29 542.60 719.68 544.30 712.50 C546.00 705.32 547.20 698.77 548.40 691.97 C549.60 685.16 550.47 680.14 551.50 671.69 C552.53 663.24 553.58 653.35 554.60 641.26 C555.62 629.18 556.75 610.59 557.60 599.18 C558.45 587.78 559.02 581.31 559.70 572.82 C560.38 564.33 561.02 556.09 561.70 548.23 C562.38 540.37 563.12 532.56 563.80 525.67 C564.48 518.78 564.88 512.57 565.80 506.91 C566.72 501.25 568.17 492.33 569.30 491.70 C570.43 491.07 571.65 497.45 572.60 503.11 C573.55 508.77 574.18 517.43 575.00 525.67 C575.82 533.91 576.65 542.99 577.50 552.54 C578.35 562.09 579.15 571.72 580.10 582.96 C581.05 594.20 582.27 608.99 583.20 619.97 C584.13 630.96 585.02 641.94 585.70 648.87 C586.38 655.80 586.35 656.05 587.30 661.55 C588.25 667.04 590.03 674.35 591.40 681.83 C592.77 689.30 593.97 698.89 595.50 706.41 C597.03 713.94 598.90 721.50 600.60 726.95 C602.30 732.40 604.17 736.24 605.70 739.12 C607.23 741.99 608.42 743.17 609.80 744.19 C611.18 745.20 613.30 745.03 614.00 745.20 L614.0 745.2 L491.0 745.2Z" fill="#e0e0e0"/>
<path d="M536.20 745.20 C537.22 745.03 538.55 744.69 542.30 744.19 C546.05 743.68 554.62 743.17 558.70 742.16 C562.78 741.14 564.58 740.98 566.80 738.10 C569.02 735.23 570.47 730.20 572.00 724.92 C573.53 719.64 574.65 713.60 576.00 706.41 C577.35 699.23 578.90 690.99 580.10 681.83 C581.30 672.66 582.17 661.12 583.20 651.40 C584.23 641.69 585.45 631.55 586.30 623.52 C587.15 615.49 587.62 610.85 588.30 603.24 C588.98 595.63 589.72 587.06 590.40 577.89 C591.08 568.72 591.72 557.53 592.40 548.23 C593.08 538.94 593.65 529.85 594.50 522.12 C595.35 514.39 596.32 506.91 597.50 501.84 C598.68 496.77 600.23 492.12 601.60 491.70 C602.97 491.28 604.50 495.71 605.70 499.30 C606.90 502.90 607.78 507.75 608.80 513.25 C609.82 518.74 610.62 526.13 611.80 532.26 C612.98 538.39 614.70 543.25 615.90 550.00 C617.10 556.76 617.80 565.64 619.00 572.82 C620.20 580.00 621.73 585.24 623.10 593.10 C624.47 600.96 625.83 610.68 627.20 619.97 C628.57 629.27 630.10 638.56 631.30 648.87 C632.50 659.18 633.22 672.23 634.40 681.83 C635.58 691.42 637.05 698.89 638.40 706.41 C639.75 713.94 641.13 721.33 642.50 726.95 C643.87 732.57 644.55 737.21 646.60 740.13 C648.65 743.05 652.90 743.59 654.80 744.44 C656.70 745.28 657.47 745.07 658.00 745.20 L658.0 745.2 L536.2 745.2Z" fill="#ff6470" fill-opacity="0.45"/>
<path d="M491.00 745.20 C492.73 745.03 497.97 744.52 501.40 744.19 C504.83 743.85 506.48 743.68 511.60 743.17 C516.72 742.66 527.67 742.50 532.10 741.14 C536.53 739.79 536.17 739.83 538.20 735.06 C540.23 730.29 542.60 719.68 544.30 712.50 C546.00 705.32 547.20 698.77 548.40 691.97 C549.60 685.16 550.47 680.14 551.50 671.69 C552.53 663.24 553.58 653.35 554.60 641.26 C555.62 629.18 556.75 610.59 557.60 599.18 C558.45 587.78 559.02 581.31 559.70 572.82 C560.38 564.33 561.02 556.09 561.70 548.23 C562.38 540.37 563.12 532.56 563.80 525.67 C564.48 518.78 564.88 512.57 565.80 506.91 C566.72 501.25 568.17 492.33 569.30 491.70 C570.43 491.07 571.65 497.45 572.60 503.11 C573.55 508.77 574.18 517.43 575.00 525.67 C575.82 533.91 576.65 542.99 577.50 552.54 C578.35 562.09 579.15 571.72 580.10 582.96 C581.05 594.20 582.27 608.99 583.20 619.97 C584.13 630.96 585.02 641.94 585.70 648.87 C586.38 655.80 586.35 656.05 587.30 661.55 C588.25 667.04 590.03 674.35 591.40 681.83 C592.77 689.30 593.97 698.89 595.50 706.41 C597.03 713.94 598.90 721.50 600.60 726.95 C602.30 732.40 604.17 736.24 605.70 739.12 C607.23 741.99 608.42 743.17 609.80 744.19 C611.18 745.20 613.30 745.03 614.00 745.20" fill="none" stroke="#aaa" stroke-width="1.3" stroke-linejoin="round"/>
<path d="M536.20 745.20 C537.22 745.03 538.55 744.69 542.30 744.19 C546.05 743.68 554.62 743.17 558.70 742.16 C562.78 741.14 564.58 740.98 566.80 738.10 C569.02 735.23 570.47 730.20 572.00 724.92 C573.53 719.64 574.65 713.60 576.00 706.41 C577.35 699.23 578.90 690.99 580.10 681.83 C581.30 672.66 582.17 661.12 583.20 651.40 C584.23 641.69 585.45 631.55 586.30 623.52 C587.15 615.49 587.62 610.85 588.30 603.24 C588.98 595.63 589.72 587.06 590.40 577.89 C591.08 568.72 591.72 557.53 592.40 548.23 C593.08 538.94 593.65 529.85 594.50 522.12 C595.35 514.39 596.32 506.91 597.50 501.84 C598.68 496.77 600.23 492.12 601.60 491.70 C602.97 491.28 604.50 495.71 605.70 499.30 C606.90 502.90 607.78 507.75 608.80 513.25 C609.82 518.74 610.62 526.13 611.80 532.26 C612.98 538.39 614.70 543.25 615.90 550.00 C617.10 556.76 617.80 565.64 619.00 572.82 C620.20 580.00 621.73 585.24 623.10 593.10 C624.47 600.96 625.83 610.68 627.20 619.97 C628.57 629.27 630.10 638.56 631.30 648.87 C632.50 659.18 633.22 672.23 634.40 681.83 C635.58 691.42 637.05 698.89 638.40 706.41 C639.75 713.94 641.13 721.33 642.50 726.95 C643.87 732.57 644.55 737.21 646.60 740.13 C648.65 743.05 652.90 743.59 654.80 744.44 C656.70 745.28 657.47 745.07 658.00 745.20" fill="none" stroke="#ff4040" stroke-width="1.5" stroke-linejoin="round"/>
<line x1="490.1" y1="479.8" x2="757.1" y2="479.8" stroke="#333" stroke-width="1.3" stroke-linecap="butt"/>
<line x1="757.1" y1="479.8" x2="757.1" y2="745.2" stroke="#555" stroke-width="1.0" stroke-linecap="butt"/>
<line x1="490.1" y1="745.2" x2="757.1" y2="745.2" stroke="#333" stroke-width="1.6" stroke-linecap="butt"/>
<line x1="490.1" y1="479.8" x2="490.1" y2="745.2" stroke="#333" stroke-width="1.6" stroke-linecap="butt"/>
<line x1="483.1" y1="745.2" x2="490.1" y2="745.2" stroke="#333" stroke-width="1.6" stroke-linecap="butt"/>
<text x="478.1" y="750.0" font-size="13.3" text-anchor="end" fill="#3a3a3a" >0</text>
<line x1="486.3" y1="732.5" x2="490.1" y2="732.5" stroke="#333" stroke-width="1.2" stroke-linecap="butt"/>
<line x1="486.3" y1="719.9" x2="490.1" y2="719.9" stroke="#333" stroke-width="1.2" stroke-linecap="butt"/>
<line x1="486.3" y1="707.2" x2="490.1" y2="707.2" stroke="#333" stroke-width="1.2" stroke-linecap="butt"/>
<line x1="483.1" y1="694.5" x2="490.1" y2="694.5" stroke="#333" stroke-width="1.6" stroke-linecap="butt"/>
<text x="478.1" y="699.3" font-size="13.3" text-anchor="end" fill="#3a3a3a" >20</text>
<line x1="486.3" y1="681.8" x2="490.1" y2="681.8" stroke="#333" stroke-width="1.2" stroke-linecap="butt"/>
<line x1="486.3" y1="669.2" x2="490.1" y2="669.2" stroke="#333" stroke-width="1.2" stroke-linecap="butt"/>
<line x1="486.3" y1="656.5" x2="490.1" y2="656.5" stroke="#333" stroke-width="1.2" stroke-linecap="butt"/>
<line x1="483.1" y1="643.8" x2="490.1" y2="643.8" stroke="#333" stroke-width="1.6" stroke-linecap="butt"/>
<text x="478.1" y="648.6" font-size="13.3" text-anchor="end" fill="#3a3a3a" >40</text>
<line x1="486.3" y1="631.1" x2="490.1" y2="631.1" stroke="#333" stroke-width="1.2" stroke-linecap="butt"/>
<line x1="486.3" y1="618.5" x2="490.1" y2="618.5" stroke="#333" stroke-width="1.2" stroke-linecap="butt"/>
<line x1="486.3" y1="605.8" x2="490.1" y2="605.8" stroke="#333" stroke-width="1.2" stroke-linecap="butt"/>
<line x1="483.1" y1="593.1" x2="490.1" y2="593.1" stroke="#333" stroke-width="1.6" stroke-linecap="butt"/>
<text x="478.1" y="597.9" font-size="13.3" text-anchor="end" fill="#3a3a3a" >60</text>
<line x1="486.3" y1="580.4" x2="490.1" y2="580.4" stroke="#333" stroke-width="1.2" stroke-linecap="butt"/>
<line x1="486.3" y1="567.8" x2="490.1" y2="567.8" stroke="#333" stroke-width="1.2" stroke-linecap="butt"/>
<line x1="486.3" y1="555.1" x2="490.1" y2="555.1" stroke="#333" stroke-width="1.2" stroke-linecap="butt"/>
<line x1="483.1" y1="542.4" x2="490.1" y2="542.4" stroke="#333" stroke-width="1.6" stroke-linecap="butt"/>
<text x="478.1" y="547.2" font-size="13.3" text-anchor="end" fill="#3a3a3a" >80</text>
<line x1="486.3" y1="529.7" x2="490.1" y2="529.7" stroke="#333" stroke-width="1.2" stroke-linecap="butt"/>
<line x1="486.3" y1="517.0" x2="490.1" y2="517.0" stroke="#333" stroke-width="1.2" stroke-linecap="butt"/>
<line x1="486.3" y1="504.4" x2="490.1" y2="504.4" stroke="#333" stroke-width="1.2" stroke-linecap="butt"/>
<line x1="483.1" y1="491.7" x2="490.1" y2="491.7" stroke="#333" stroke-width="1.6" stroke-linecap="butt"/>
<text x="478.1" y="496.5" font-size="13.3" text-anchor="end" fill="#3a3a3a" >100</text>
<line x1="497.1" y1="745.2" x2="497.1" y2="748.7" stroke="#444" stroke-width="1.2" stroke-linecap="butt"/>
<line x1="504.1" y1="745.2" x2="504.1" y2="748.7" stroke="#444" stroke-width="1.2" stroke-linecap="butt"/>
<line x1="509.9" y1="745.2" x2="509.9" y2="748.7" stroke="#444" stroke-width="1.2" stroke-linecap="butt"/>
<line x1="514.7" y1="745.2" x2="514.7" y2="748.7" stroke="#444" stroke-width="1.2" stroke-linecap="butt"/>
<line x1="518.9" y1="745.2" x2="518.9" y2="748.7" stroke="#444" stroke-width="1.2" stroke-linecap="butt"/>
<line x1="522.6" y1="745.2" x2="522.6" y2="748.7" stroke="#444" stroke-width="1.2" stroke-linecap="butt"/>
<line x1="525.9" y1="745.2" x2="525.9" y2="752.2" stroke="#333" stroke-width="1.8" stroke-linecap="butt"/>
<line x1="547.7" y1="745.2" x2="547.7" y2="748.7" stroke="#444" stroke-width="1.2" stroke-linecap="butt"/>
<line x1="560.4" y1="745.2" x2="560.4" y2="748.7" stroke="#444" stroke-width="1.2" stroke-linecap="butt"/>
<line x1="569.4" y1="745.2" x2="569.4" y2="748.7" stroke="#444" stroke-width="1.2" stroke-linecap="butt"/>
<line x1="576.4" y1="745.2" x2="576.4" y2="748.7" stroke="#444" stroke-width="1.2" stroke-linecap="butt"/>
<line x1="582.2" y1="745.2" x2="582.2" y2="748.7" stroke="#444" stroke-width="1.2" stroke-linecap="butt"/>
<line x1="587.0" y1="745.2" x2="587.0" y2="748.7" stroke="#444" stroke-width="1.2" stroke-linecap="butt"/>
<line x1="591.2" y1="745.2" x2="591.2" y2="748.7" stroke="#444" stroke-width="1.2" stroke-linecap="butt"/>
<line x1="594.9" y1="745.2" x2="594.9" y2="748.7" stroke="#444" stroke-width="1.2" stroke-linecap="butt"/>
<line x1="598.2" y1="745.2" x2="598.2" y2="752.2" stroke="#333" stroke-width="1.8" stroke-linecap="butt"/>
<line x1="620.0" y1="745.2" x2="620.0" y2="748.7" stroke="#444" stroke-width="1.2" stroke-linecap="butt"/>
<line x1="632.7" y1="745.2" x2="632.7" y2="748.7" stroke="#444" stroke-width="1.2" stroke-linecap="butt"/>
<line x1="641.7" y1="745.2" x2="641.7" y2="748.7" stroke="#444" stroke-width="1.2" stroke-linecap="butt"/>
<line x1="648.7" y1="745.2" x2="648.7" y2="748.7" stroke="#444" stroke-width="1.2" stroke-linecap="butt"/>
<line x1="654.5" y1="745.2" x2="654.5" y2="748.7" stroke="#444" stroke-width="1.2" stroke-linecap="butt"/>
<line x1="659.3" y1="745.2" x2="659.3" y2="748.7" stroke="#444" stroke-width="1.2" stroke-linecap="butt"/>
<line x1="663.5" y1="745.2" x2="663.5" y2="748.7" stroke="#444" stroke-width="1.2" stroke-linecap="butt"/>
<line x1="667.2" y1="745.2" x2="667.2" y2="748.7" stroke="#444" stroke-width="1.2" stroke-linecap="butt"/>
<line x1="670.5" y1="745.2" x2="670.5" y2="752.2" stroke="#333" stroke-width="1.8" stroke-linecap="butt"/>
<line x1="692.3" y1="745.2" x2="692.3" y2="748.7" stroke="#444" stroke-width="1.2" stroke-linecap="butt"/>
<line x1="705.0" y1="745.2" x2="705.0" y2="748.7" stroke="#444" stroke-width="1.2" stroke-linecap="butt"/>
<line x1="714.0" y1="745.2" x2="714.0" y2="748.7" stroke="#444" stroke-width="1.2" stroke-linecap="butt"/>
<line x1="721.0" y1="745.2" x2="721.0" y2="748.7" stroke="#444" stroke-width="1.2" stroke-linecap="butt"/>
<line x1="726.8" y1="745.2" x2="726.8" y2="748.7" stroke="#444" stroke-width="1.2" stroke-linecap="butt"/>
<line x1="731.6" y1="745.2" x2="731.6" y2="748.7" stroke="#444" stroke-width="1.2" stroke-linecap="butt"/>
<line x1="735.8" y1="745.2" x2="735.8" y2="748.7" stroke="#444" stroke-width="1.2" stroke-linecap="butt"/>
<line x1="739.5" y1="745.2" x2="739.5" y2="748.7" stroke="#444" stroke-width="1.2" stroke-linecap="butt"/>
<line x1="742.8" y1="745.2" x2="742.8" y2="752.2" stroke="#333" stroke-width="1.8" stroke-linecap="butt"/>
<text x="524.4" y="773.2" font-size="13.5" fill="#444">10<tspan font-size="13.5" dy="-8">4</tspan></text>
<text x="596.7" y="773.2" font-size="13.5" fill="#444">10<tspan font-size="13.5" dy="-8">5</tspan></text>
<text x="669.0" y="773.2" font-size="13.5" fill="#444">10<tspan font-size="13.5" dy="-8">6</tspan></text>
<text x="741.3" y="773.2" font-size="13.5" fill="#444">10<tspan font-size="13.5" dy="-8">7</tspan></text>
<text x="525.9" y="804.2" font-size="26.8"  >Cy5 (nanoparticles)</text>
<text x="618.5" y="457.3" font-size="27" text-anchor="middle" >OT-1 CTLs</text>
<rect x="802.0" y="566.8" width="22.5" height="22.1" fill="#e2e2e2" stroke="#b4b4b4" stroke-width="3.6" />
<text x="841.0" y="587.9" font-size="27"  >DCNP</text>
<rect x="800.7" y="623.0" width="22.4" height="22.7" fill="#ffb8bc" stroke="#ff5555" stroke-width="3.6" />
<text x="840.7" y="643.6" font-size="27"  >DCNP-Ab</text>
<rect x="1217.5" y="438.6" width="418.1" height="277.4" fill="none" stroke="#000" stroke-width="3"/>
<line x1="1205.8" y1="716.0" x2="1217.5" y2="716.0" stroke="#000" stroke-width="3" stroke-linecap="butt"/>
<text x="1203.0" y="725.3" font-size="26" text-anchor="end" >0</text>
<line x1="1205.8" y1="623.5" x2="1217.5" y2="623.5" stroke="#000" stroke-width="3" stroke-linecap="butt"/>
<text x="1203.0" y="632.8" font-size="26" text-anchor="end" >10</text>
<line x1="1205.8" y1="531.1" x2="1217.5" y2="531.1" stroke="#000" stroke-width="3" stroke-linecap="butt"/>
<text x="1203.0" y="540.4" font-size="26" text-anchor="end" >20</text>
<line x1="1205.8" y1="438.6" x2="1217.5" y2="438.6" stroke="#000" stroke-width="3" stroke-linecap="butt"/>
<text x="1203.0" y="447.9" font-size="26" text-anchor="end" >30</text>
<rect x="1235.8" y="690.0" width="25.9" height="26.0" fill="#fff" stroke="#000" stroke-width="3.5"/>
<circle cx="1237.3" cy="686.2" r="4.1" fill="#fff" stroke="#000" stroke-width="2.3"/>
<circle cx="1242.7" cy="683.9" r="4.1" fill="#fff" stroke="#000" stroke-width="2.3"/>
<circle cx="1247.3" cy="686.2" r="4.1" fill="#fff" stroke="#000" stroke-width="2.3"/>
<circle cx="1254.5" cy="685.7" r="4.1" fill="#fff" stroke="#000" stroke-width="2.3"/>
<circle cx="1257.2" cy="687.2" r="4.1" fill="#fff" stroke="#000" stroke-width="2.3"/>
<circle cx="1261.7" cy="685.4" r="4.1" fill="#fff" stroke="#000" stroke-width="2.3"/>
<rect x="1269.8" y="691.9" width="27.2" height="24.1" fill="#808080" stroke="#000" stroke-width="3.5"/>
<circle cx="1272.5" cy="691.7" r="4.1" fill="#fff" stroke="#000" stroke-width="2.3"/>
<circle cx="1277.0" cy="684.5" r="4.1" fill="#fff" stroke="#000" stroke-width="2.3"/>
<circle cx="1281.6" cy="689.9" r="4.1" fill="#fff" stroke="#000" stroke-width="2.3"/>
<circle cx="1286.0" cy="685.4" r="4.1" fill="#fff" stroke="#000" stroke-width="2.3"/>
<circle cx="1290.6" cy="692.6" r="4.1" fill="#fff" stroke="#000" stroke-width="2.3"/>
<circle cx="1296.0" cy="687.2" r="4.1" fill="#fff" stroke="#000" stroke-width="2.3"/>
<rect x="1342.3" y="685.4" width="26.3" height="30.6" fill="#fff" stroke="#000" stroke-width="3.5"/>
<circle cx="1343.8" cy="681.7" r="4.1" fill="#fff" stroke="#000" stroke-width="2.3"/>
<circle cx="1348.3" cy="679.9" r="4.1" fill="#fff" stroke="#000" stroke-width="2.3"/>
<circle cx="1353.8" cy="681.7" r="4.1" fill="#fff" stroke="#000" stroke-width="2.3"/>
<circle cx="1358.3" cy="679.9" r="4.1" fill="#fff" stroke="#000" stroke-width="2.3"/>
<circle cx="1362.8" cy="682.6" r="4.1" fill="#fff" stroke="#000" stroke-width="2.3"/>
<circle cx="1367.3" cy="681.4" r="4.1" fill="#fff" stroke="#000" stroke-width="2.3"/>
<rect x="1376.7" y="687.2" width="26.8" height="28.8" fill="#808080" stroke="#000" stroke-width="3.5"/>
<circle cx="1378.1" cy="685.4" r="4.1" fill="#fff" stroke="#000" stroke-width="2.3"/>
<circle cx="1383.5" cy="679.9" r="4.1" fill="#fff" stroke="#000" stroke-width="2.3"/>
<circle cx="1388.1" cy="685.4" r="4.1" fill="#fff" stroke="#000" stroke-width="2.3"/>
<circle cx="1392.6" cy="680.8" r="4.1" fill="#fff" stroke="#000" stroke-width="2.3"/>
<circle cx="1397.1" cy="687.2" r="4.1" fill="#fff" stroke="#000" stroke-width="2.3"/>
<circle cx="1402.5" cy="683.9" r="4.1" fill="#fff" stroke="#000" stroke-width="2.3"/>
<rect x="1448.3" y="664.6" width="27.2" height="51.4" fill="#fff" stroke="#000" stroke-width="3.5"/>
<line x1="1462.0" y1="662.8" x2="1462.0" y2="659.6" stroke="#000" stroke-width="2.2" stroke-linecap="butt"/>
<line x1="1451.0" y1="659.6" x2="1473.0" y2="659.6" stroke="#000" stroke-width="2.2" stroke-linecap="butt"/>
<circle cx="1450.5" cy="657.9" r="4.1" fill="#fff" stroke="#000" stroke-width="2.3"/>
<circle cx="1461.7" cy="669.1" r="4.1" fill="#fff" stroke="#000" stroke-width="2.3"/>
<circle cx="1473.6" cy="659.7" r="4.1" fill="#fff" stroke="#000" stroke-width="2.3"/>
<rect x="1483.3" y="620.2" width="26.5" height="95.8" fill="#808080" stroke="#000" stroke-width="3.5"/>
<line x1="1496.6" y1="618.4" x2="1496.6" y2="604.1" stroke="#000" stroke-width="2.2" stroke-linecap="butt"/>
<line x1="1489.1" y1="604.1" x2="1504.1" y2="604.1" stroke="#000" stroke-width="2.2" stroke-linecap="butt"/>
<circle cx="1496.6" cy="604.1" r="4.1" fill="#fff" stroke="#000" stroke-width="2.3"/>
<circle cx="1496.6" cy="616.8" r="4.1" fill="#fff" stroke="#000" stroke-width="2.3"/>
<circle cx="1496.6" cy="631.6" r="4.1" fill="#fff" stroke="#000" stroke-width="2.3"/>
<rect x="1554.8" y="645.6" width="27.3" height="70.4" fill="#fff" stroke="#000" stroke-width="3.5"/>
<line x1="1568.4" y1="643.9" x2="1568.4" y2="633.0" stroke="#000" stroke-width="2.2" stroke-linecap="butt"/>
<line x1="1560.9" y1="633.0" x2="1575.9" y2="633.0" stroke="#000" stroke-width="2.2" stroke-linecap="butt"/>
<circle cx="1557.0" cy="650.1" r="4.1" fill="#fff" stroke="#000" stroke-width="2.3"/>
<circle cx="1568.8" cy="633.0" r="4.1" fill="#fff" stroke="#000" stroke-width="2.3"/>
<circle cx="1579.6" cy="644.7" r="4.1" fill="#fff" stroke="#000" stroke-width="2.3"/>
<rect x="1589.5" y="581.8" width="27.2" height="134.2" fill="#808080" stroke="#000" stroke-width="3.5"/>
<line x1="1603.0" y1="580.1" x2="1603.0" y2="565.8" stroke="#000" stroke-width="2.2" stroke-linecap="butt"/>
<line x1="1595.5" y1="565.8" x2="1610.5" y2="565.8" stroke="#000" stroke-width="2.2" stroke-linecap="butt"/>
<circle cx="1602.7" cy="565.8" r="4.1" fill="#fff" stroke="#000" stroke-width="2.3"/>
<circle cx="1602.7" cy="577.9" r="4.1" fill="#fff" stroke="#000" stroke-width="2.3"/>
<circle cx="1602.7" cy="593.6" r="4.1" fill="#fff" stroke="#000" stroke-width="2.3"/>
<line x1="1252.3" y1="673.6" x2="1287.9" y2="673.6" stroke="#000" stroke-width="2.6" stroke-linecap="butt"/>
<text x="1220.2" y="660.0" font-size="20.7" font-style="italic" >P = 0.1752</text>
<line x1="1354.1" y1="650.7" x2="1391.7" y2="650.7" stroke="#000" stroke-width="2.6" stroke-linecap="butt"/>
<text x="1323.0" y="636.6" font-size="20.7" font-style="italic" >P = 0.1156</text>
<line x1="1460.5" y1="595.1" x2="1498.0" y2="595.1" stroke="#000" stroke-width="2.6" stroke-linecap="butt"/>
<text x="1429.2" y="582.5" font-size="20.7" font-style="italic" >P = 0.0043</text>
<line x1="1461.0" y1="557.5" x2="1572.4" y2="557.5" stroke="#000" stroke-width="2.6" stroke-linecap="butt"/>
<text x="1466.4" y="544.2" font-size="20.7" font-style="italic" >P = 0.1971</text>
<line x1="1563.4" y1="522.5" x2="1599.8" y2="522.5" stroke="#000" stroke-width="2.6" stroke-linecap="butt"/>
<text x="1530.9" y="508.8" font-size="20.7" font-style="italic" >P = 0.0004</text>
<line x1="1493.5" y1="477.8" x2="1607.0" y2="477.8" stroke="#000" stroke-width="2.6" stroke-linecap="butt"/>
<text x="1500.2" y="464.2" font-size="20.7" font-style="italic" >P = 0.0105</text>
<text x="1162" y="575.3" font-size="27" text-anchor="middle" transform="rotate(-90 1162 575.3)">Cy5 MFI (1x10<tspan font-size="17.6" dy="-11.4">5</tspan><tspan dy="11.4">)</tspan></text>
<text x="1271.0" y="753.0" font-size="26" text-anchor="end" transform="rotate(-45 1271.0 753.0)" >DCNP</text>
<text x="1383.0" y="754.0" font-size="26" text-anchor="end" transform="rotate(-45 1383.0 754.0)" >DCNP-Ab</text>
<text x="1484.0" y="753.0" font-size="26" text-anchor="end" transform="rotate(-45 1484.0 753.0)" >DCNP</text>
<text x="1596.0" y="754.0" font-size="26" text-anchor="end" transform="rotate(-45 1596.0 754.0)" >DCNP-Ab</text>
<line x1="1250.0" y1="852.0" x2="1378.7" y2="852.0" stroke="#000" stroke-width="2.6" stroke-linecap="butt"/>
<line x1="1469.8" y1="852.0" x2="1598.5" y2="852.0" stroke="#000" stroke-width="2.6" stroke-linecap="butt"/>
<text x="1315.2" y="898.5" font-size="26" text-anchor="middle" >Naïve</text>
<text x="1536.6" y="898.5" font-size="26" text-anchor="middle" >Primed</text>
<rect x="1696.7" y="451.5" width="11.9" height="11.8" fill="#fff" stroke="#000" stroke-width="2.8" />
<rect x="1696.7" y="488.7" width="11.9" height="11.5" fill="#808080" stroke="#000" stroke-width="2.8" />
<text x="1736.0" y="465.6" font-size="22.8"  >Myeloid cells</text>
<text x="1736.0" y="502.2" font-size="22.8"  >CTLs</text>
<rect x="313.8" y="897.6" width="278.9" height="278.0" fill="none" stroke="#000" stroke-width="3"/>
<line x1="302.1" y1="1175.6" x2="313.8" y2="1175.6" stroke="#000" stroke-width="3" stroke-linecap="butt"/>
<text x="299.3" y="1184.9" font-size="26" text-anchor="end" >0</text>
<line x1="302.1" y1="1082.9" x2="313.8" y2="1082.9" stroke="#000" stroke-width="3" stroke-linecap="butt"/>
<text x="299.3" y="1092.2" font-size="26" text-anchor="end" >20</text>
<line x1="302.1" y1="990.3" x2="313.8" y2="990.3" stroke="#000" stroke-width="3" stroke-linecap="butt"/>
<text x="299.3" y="999.6" font-size="26" text-anchor="end" >40</text>
<line x1="302.1" y1="897.6" x2="313.8" y2="897.6" stroke="#000" stroke-width="3" stroke-linecap="butt"/>
<text x="299.3" y="906.9" font-size="26" text-anchor="end" >60</text>
<rect x="331.4" y="938.1" width="24.2" height="237.5" fill="#fff" stroke="#000" stroke-width="3.2"/>
<line x1="343.5" y1="936.5" x2="343.5" y2="924.5" stroke="#000" stroke-width="2.2" stroke-linecap="butt"/>
<line x1="334.5" y1="924.5" x2="352.5" y2="924.5" stroke="#000" stroke-width="2.2" stroke-linecap="butt"/>
<circle cx="332.8" cy="925.9" r="4.3" fill="#fff" stroke="#000" stroke-width="2.4"/>
<circle cx="355.1" cy="924.9" r="4.3" fill="#fff" stroke="#000" stroke-width="2.4"/>
<circle cx="332.8" cy="947.2" r="4.3" fill="#fff" stroke="#000" stroke-width="2.4"/>
<circle cx="355.1" cy="942.1" r="4.3" fill="#fff" stroke="#000" stroke-width="2.4"/>
<rect x="375.2" y="1096.1" width="23.4" height="79.5" fill="#fff" stroke="#000" stroke-width="3.2"/>
<line x1="386.9" y1="1094.5" x2="386.9" y2="1091.7" stroke="#000" stroke-width="2.2" stroke-linecap="butt"/>
<line x1="377.9" y1="1091.7" x2="395.9" y2="1091.7" stroke="#000" stroke-width="2.2" stroke-linecap="butt"/>
<circle cx="376.2" cy="1097.8" r="4.3" fill="#fff" stroke="#000" stroke-width="2.4"/>
<circle cx="384.2" cy="1091.3" r="4.3" fill="#fff" stroke="#000" stroke-width="2.4"/>
<circle cx="391.7" cy="1094.5" r="4.3" fill="#fff" stroke="#000" stroke-width="2.4"/>
<circle cx="398.1" cy="1094.5" r="4.3" fill="#fff" stroke="#000" stroke-width="2.4"/>
<rect x="418.6" y="1119.3" width="24.2" height="56.3" fill="#fff" stroke="#000" stroke-width="3.2"/>
<line x1="430.7" y1="1117.7" x2="430.7" y2="1114.9" stroke="#000" stroke-width="2.2" stroke-linecap="butt"/>
<line x1="421.7" y1="1114.9" x2="439.7" y2="1114.9" stroke="#000" stroke-width="2.2" stroke-linecap="butt"/>
<circle cx="420.4" cy="1121.9" r="4.3" fill="#fff" stroke="#000" stroke-width="2.4"/>
<circle cx="428.4" cy="1114.4" r="4.3" fill="#fff" stroke="#000" stroke-width="2.4"/>
<circle cx="434.7" cy="1118.1" r="4.3" fill="#fff" stroke="#000" stroke-width="2.4"/>
<circle cx="441.4" cy="1116.8" r="4.3" fill="#fff" stroke="#000" stroke-width="2.4"/>
<rect x="462.9" y="1058.1" width="24.1" height="117.5" fill="#fff" stroke="#000" stroke-width="3.2"/>
<line x1="475.0" y1="1056.5" x2="475.0" y2="1054.2" stroke="#000" stroke-width="2.2" stroke-linecap="butt"/>
<line x1="466.0" y1="1054.2" x2="484.0" y2="1054.2" stroke="#000" stroke-width="2.2" stroke-linecap="butt"/>
<circle cx="464.2" cy="1058.4" r="4.3" fill="#fff" stroke="#000" stroke-width="2.4"/>
<circle cx="471.8" cy="1052.4" r="4.3" fill="#fff" stroke="#000" stroke-width="2.4"/>
<circle cx="478.9" cy="1055.6" r="4.3" fill="#fff" stroke="#000" stroke-width="2.4"/>
<circle cx="485.7" cy="1055.6" r="4.3" fill="#fff" stroke="#000" stroke-width="2.4"/>
<rect x="506.2" y="1150.6" width="24.2" height="25.0" fill="#fff" stroke="#000" stroke-width="3.2"/>
<line x1="518.3" y1="1149.0" x2="518.3" y2="1145.8" stroke="#000" stroke-width="2.2" stroke-linecap="butt"/>
<line x1="509.3" y1="1145.8" x2="527.3" y2="1145.8" stroke="#000" stroke-width="2.2" stroke-linecap="butt"/>
<circle cx="508.4" cy="1153.4" r="4.3" fill="#fff" stroke="#000" stroke-width="2.4"/>
<circle cx="508.8" cy="1145.0" r="4.3" fill="#fff" stroke="#000" stroke-width="2.4"/>
<circle cx="519.0" cy="1146.9" r="4.3" fill="#fff" stroke="#000" stroke-width="2.4"/>
<circle cx="529.9" cy="1150.1" r="4.3" fill="#fff" stroke="#000" stroke-width="2.4"/>
<rect x="550.0" y="1160.5" width="24.6" height="15.1" fill="#fff" stroke="#000" stroke-width="3.2"/>
<line x1="562.3" y1="1158.9" x2="562.3" y2="1145.9" stroke="#000" stroke-width="2.2" stroke-linecap="butt"/>
<line x1="553.3" y1="1145.9" x2="571.3" y2="1145.9" stroke="#000" stroke-width="2.2" stroke-linecap="butt"/>
<circle cx="562.3" cy="1140.4" r="4.3" fill="#fff" stroke="#000" stroke-width="2.4"/>
<circle cx="551.8" cy="1164.9" r="4.3" fill="#fff" stroke="#000" stroke-width="2.4"/>
<circle cx="562.3" cy="1158.9" r="4.3" fill="#fff" stroke="#000" stroke-width="2.4"/>
<circle cx="572.9" cy="1164.0" r="4.3" fill="#fff" stroke="#000" stroke-width="2.4"/>
<line x1="388.4" y1="1061.9" x2="432.6" y2="1061.9" stroke="#000" stroke-width="2.6" stroke-linecap="butt"/>
<text x="360.2" y="1048.0" font-size="20.7" font-style="italic" >P = 0.0034</text>
<line x1="473.0" y1="1014.3" x2="521.0" y2="1014.3" stroke="#000" stroke-width="2.6" stroke-linecap="butt"/>
<text x="446.5" y="1000.8" font-size="20.7" font-style="italic" >P &lt; 0.0001</text>
<text x="253.5" y="1034.3" font-size="26.6" text-anchor="middle" transform="rotate(-90 253.5 1034.3)">% under Cy5<tspan font-size="17" dy="-11">+</tspan><tspan dy="11"> cells</tspan></text>
<text x="351.0" y="1210.1" font-size="26" text-anchor="end" transform="rotate(-45 351.0 1210.1)">PD-1<tspan font-size="18.7" dy="-13" dx="0.8">+</tspan></text>
<text x="394.4" y="1210.1" font-size="26" text-anchor="end" transform="rotate(-45 394.4 1210.1)">PD-1<tspan font-size="18.7" dy="-13" dx="0.8">+</tspan><tspan dy="13">CD8</tspan><tspan font-size="18.7" dy="-13" dx="0.8">+</tspan></text>
<text x="438.2" y="1210.1" font-size="26" text-anchor="end" transform="rotate(-45 438.2 1210.1)">PD-1<tspan font-size="18.7" dy="-13" dx="0.8">+</tspan><tspan dy="13">CD4</tspan><tspan font-size="18.7" dy="-13" dx="0.8">+</tspan></text>
<text x="482.5" y="1210.1" font-size="26" text-anchor="end" transform="rotate(-45 482.5 1210.1)">Th1</text>
<text x="525.8" y="1210.1" font-size="26" text-anchor="end" transform="rotate(-45 525.8 1210.1)">Th2</text>
<text x="569.8" y="1210.1" font-size="26" text-anchor="end" transform="rotate(-45 569.8 1210.1)">Treg</text>
<rect x="1228.2" y="1000.8" width="418.0" height="277.2" fill="none" stroke="#000" stroke-width="3"/>
<line x1="1216.5" y1="1278.0" x2="1228.2" y2="1278.0" stroke="#000" stroke-width="3" stroke-linecap="butt"/>
<text x="1213.7" y="1287.3" font-size="26" text-anchor="end" >0</text>
<line x1="1216.5" y1="1185.6" x2="1228.2" y2="1185.6" stroke="#000" stroke-width="3" stroke-linecap="butt"/>
<text x="1213.7" y="1194.9" font-size="26" text-anchor="end" >1</text>
<line x1="1216.5" y1="1093.2" x2="1228.2" y2="1093.2" stroke="#000" stroke-width="3" stroke-linecap="butt"/>
<text x="1213.7" y="1102.5" font-size="26" text-anchor="end" >2</text>
<line x1="1216.5" y1="1000.8" x2="1228.2" y2="1000.8" stroke="#000" stroke-width="3" stroke-linecap="butt"/>
<text x="1213.7" y="1010.1" font-size="26" text-anchor="end" >3</text>
<rect x="1242.2" y="1188.5" width="21.0" height="89.5" fill="#fff" stroke="#000" stroke-width="3.0"/>
<line x1="1252.7" y1="1187.0" x2="1252.7" y2="1183.3" stroke="#000" stroke-width="2.2" stroke-linecap="butt"/>
<line x1="1246.7" y1="1183.3" x2="1258.7" y2="1183.3" stroke="#000" stroke-width="2.2" stroke-linecap="butt"/>
<circle cx="1244.9" cy="1190.2" r="4.0" fill="#fff" stroke="#000" stroke-width="2.2"/>
<circle cx="1252.7" cy="1183.8" r="4.0" fill="#fff" stroke="#000" stroke-width="2.2"/>
<circle cx="1260.6" cy="1187.4" r="4.0" fill="#fff" stroke="#000" stroke-width="2.2"/>
<rect x="1268.8" y="1192.6" width="21.5" height="85.4" fill="#a2a1a6" stroke="#000" stroke-width="3.0"/>
<line x1="1279.5" y1="1191.1" x2="1279.5" y2="1188.4" stroke="#000" stroke-width="2.2" stroke-linecap="butt"/>
<line x1="1273.5" y1="1188.4" x2="1285.5" y2="1188.4" stroke="#000" stroke-width="2.2" stroke-linecap="butt"/>
<circle cx="1271.0" cy="1191.1" r="4.0" fill="#fff" stroke="#000" stroke-width="2.2"/>
<circle cx="1279.8" cy="1186.5" r="4.0" fill="#fff" stroke="#000" stroke-width="2.2"/>
<circle cx="1288.2" cy="1189.3" r="4.0" fill="#fff" stroke="#000" stroke-width="2.2"/>
<rect x="1293.4" y="1153.3" width="24.5" height="124.7" fill="#000"/>
<line x1="1305.7" y1="1153.3" x2="1305.7" y2="1148.6" stroke="#000" stroke-width="2.2" stroke-linecap="butt"/>
<line x1="1299.7" y1="1148.6" x2="1311.7" y2="1148.6" stroke="#000" stroke-width="2.2" stroke-linecap="butt"/>
<circle cx="1298.0" cy="1149.6" r="4.0" fill="#fff" stroke="#000" stroke-width="2.2"/>
<circle cx="1307.4" cy="1159.7" r="4.0" fill="#fff" stroke="#000" stroke-width="2.2"/>
<circle cx="1314.2" cy="1150.5" r="4.0" fill="#fff" stroke="#000" stroke-width="2.2"/>
<rect x="1347.0" y="1187.1" width="21.5" height="90.9" fill="#fff" stroke="#000" stroke-width="3.0"/>
<line x1="1357.8" y1="1185.6" x2="1357.8" y2="1181.0" stroke="#000" stroke-width="2.2" stroke-linecap="butt"/>
<line x1="1351.8" y1="1181.0" x2="1363.8" y2="1181.0" stroke="#000" stroke-width="2.2" stroke-linecap="butt"/>
<circle cx="1349.1" cy="1190.2" r="4.0" fill="#fff" stroke="#000" stroke-width="2.2"/>
<circle cx="1357.0" cy="1181.9" r="4.0" fill="#fff" stroke="#000" stroke-width="2.2"/>
<circle cx="1364.8" cy="1188.4" r="4.0" fill="#fff" stroke="#000" stroke-width="2.2"/>
<rect x="1374.1" y="1202.8" width="20.4" height="75.2" fill="#a2a1a6" stroke="#000" stroke-width="3.0"/>
<line x1="1384.3" y1="1201.3" x2="1384.3" y2="1200.4" stroke="#000" stroke-width="2.2" stroke-linecap="butt"/>
<line x1="1378.3" y1="1200.4" x2="1390.3" y2="1200.4" stroke="#000" stroke-width="2.2" stroke-linecap="butt"/>
<circle cx="1376.2" cy="1201.3" r="4.0" fill="#fff" stroke="#000" stroke-width="2.2"/>
<circle cx="1384.0" cy="1199.5" r="4.0" fill="#fff" stroke="#000" stroke-width="2.2"/>
<circle cx="1391.9" cy="1201.3" r="4.0" fill="#fff" stroke="#000" stroke-width="2.2"/>
<rect x="1398.6" y="1150.5" width="24.5" height="127.5" fill="#000"/>
<line x1="1410.8" y1="1150.5" x2="1410.8" y2="1147.7" stroke="#000" stroke-width="2.2" stroke-linecap="butt"/>
<line x1="1404.8" y1="1147.7" x2="1416.8" y2="1147.7" stroke="#000" stroke-width="2.2" stroke-linecap="butt"/>
<circle cx="1402.3" cy="1152.3" r="4.0" fill="#fff" stroke="#000" stroke-width="2.2"/>
<circle cx="1411.7" cy="1147.7" r="4.0" fill="#fff" stroke="#000" stroke-width="2.2"/>
<circle cx="1419.5" cy="1149.6" r="4.0" fill="#fff" stroke="#000" stroke-width="2.2"/>
<rect x="1452.3" y="1187.1" width="20.4" height="90.9" fill="#fff" stroke="#000" stroke-width="3.0"/>
<line x1="1462.5" y1="1185.6" x2="1462.5" y2="1181.9" stroke="#000" stroke-width="2.2" stroke-linecap="butt"/>
<line x1="1456.5" y1="1181.9" x2="1468.5" y2="1181.9" stroke="#000" stroke-width="2.2" stroke-linecap="butt"/>
<circle cx="1454.4" cy="1183.8" r="4.0" fill="#fff" stroke="#000" stroke-width="2.2"/>
<circle cx="1462.2" cy="1193.9" r="4.0" fill="#fff" stroke="#000" stroke-width="2.2"/>
<circle cx="1470.0" cy="1183.8" r="4.0" fill="#fff" stroke="#000" stroke-width="2.2"/>
<rect x="1478.3" y="1184.3" width="21.5" height="93.7" fill="#a2a1a6" stroke="#000" stroke-width="3.0"/>
<line x1="1489.0" y1="1182.8" x2="1489.0" y2="1181.9" stroke="#000" stroke-width="2.2" stroke-linecap="butt"/>
<line x1="1483.0" y1="1181.9" x2="1495.0" y2="1181.9" stroke="#000" stroke-width="2.2" stroke-linecap="butt"/>
<circle cx="1480.5" cy="1183.8" r="4.0" fill="#fff" stroke="#000" stroke-width="2.2"/>
<circle cx="1489.0" cy="1181.9" r="4.0" fill="#fff" stroke="#000" stroke-width="2.2"/>
<circle cx="1497.5" cy="1183.8" r="4.0" fill="#fff" stroke="#000" stroke-width="2.2"/>
<rect x="1503.4" y="1143.1" width="24.0" height="134.9" fill="#000"/>
<line x1="1515.4" y1="1143.1" x2="1515.4" y2="1139.4" stroke="#000" stroke-width="2.2" stroke-linecap="butt"/>
<line x1="1509.4" y1="1139.4" x2="1521.4" y2="1139.4" stroke="#000" stroke-width="2.2" stroke-linecap="butt"/>
<circle cx="1508.1" cy="1139.4" r="4.0" fill="#fff" stroke="#000" stroke-width="2.2"/>
<circle cx="1515.9" cy="1145.9" r="4.0" fill="#fff" stroke="#000" stroke-width="2.2"/>
<circle cx="1523.7" cy="1143.1" r="4.0" fill="#fff" stroke="#000" stroke-width="2.2"/>
<rect x="1556.5" y="1188.0" width="20.4" height="90.0" fill="#fff" stroke="#000" stroke-width="3.0"/>
<line x1="1566.7" y1="1186.5" x2="1566.7" y2="1184.7" stroke="#000" stroke-width="2.2" stroke-linecap="butt"/>
<line x1="1560.7" y1="1184.7" x2="1572.7" y2="1184.7" stroke="#000" stroke-width="2.2" stroke-linecap="butt"/>
<circle cx="1558.6" cy="1187.4" r="4.0" fill="#fff" stroke="#000" stroke-width="2.2"/>
<circle cx="1566.4" cy="1182.8" r="4.0" fill="#fff" stroke="#000" stroke-width="2.2"/>
<circle cx="1574.3" cy="1186.5" r="4.0" fill="#fff" stroke="#000" stroke-width="2.2"/>
<rect x="1582.5" y="1174.2" width="22.0" height="103.8" fill="#a2a1a6" stroke="#000" stroke-width="3.0"/>
<line x1="1593.5" y1="1172.7" x2="1593.5" y2="1169.9" stroke="#000" stroke-width="2.2" stroke-linecap="butt"/>
<line x1="1587.5" y1="1169.9" x2="1599.5" y2="1169.9" stroke="#000" stroke-width="2.2" stroke-linecap="butt"/>
<circle cx="1584.7" cy="1175.4" r="4.0" fill="#fff" stroke="#000" stroke-width="2.2"/>
<circle cx="1592.5" cy="1169.9" r="4.0" fill="#fff" stroke="#000" stroke-width="2.2"/>
<circle cx="1600.3" cy="1172.7" r="4.0" fill="#fff" stroke="#000" stroke-width="2.2"/>
<rect x="1608.1" y="1078.4" width="25.0" height="199.6" fill="#000"/>
<line x1="1620.6" y1="1078.4" x2="1620.6" y2="1075.6" stroke="#000" stroke-width="2.2" stroke-linecap="butt"/>
<line x1="1614.6" y1="1075.6" x2="1626.6" y2="1075.6" stroke="#000" stroke-width="2.2" stroke-linecap="butt"/>
<circle cx="1612.3" cy="1079.3" r="4.0" fill="#fff" stroke="#000" stroke-width="2.2"/>
<circle cx="1620.1" cy="1074.7" r="4.0" fill="#fff" stroke="#000" stroke-width="2.2"/>
<circle cx="1627.9" cy="1078.4" r="4.0" fill="#fff" stroke="#000" stroke-width="2.2"/>
<line x1="1278.8" y1="1136.8" x2="1307.5" y2="1136.8" stroke="#000" stroke-width="2.6" stroke-linecap="butt"/>
<text x="1242.3" y="1123.2" font-size="20.7" font-style="italic" >P &lt; 0.0001</text>
<line x1="1384.0" y1="1111.8" x2="1411.7" y2="1111.8" stroke="#000" stroke-width="2.6" stroke-linecap="butt"/>
<text x="1347.6" y="1097.2" font-size="20.7" font-style="italic" >P &lt; 0.0001</text>
<line x1="1488.3" y1="1125.3" x2="1515.9" y2="1125.3" stroke="#000" stroke-width="2.6" stroke-linecap="butt"/>
<text x="1451.3" y="1111.2" font-size="20.7" font-style="italic" >P &lt; 0.0001</text>
<line x1="1593.0" y1="1056.5" x2="1622.7" y2="1056.5" stroke="#000" stroke-width="2.6" stroke-linecap="butt"/>
<text x="1540.4" y="1043.5" font-size="20.7" font-style="italic" >P &lt; 0.0001</text>
<text x="1278.4" y="1316.9" font-size="27" text-anchor="middle" >2 h</text>
<text x="1383.2" y="1316.9" font-size="27" text-anchor="middle" >8 h</text>
<text x="1488.5" y="1316.9" font-size="27" text-anchor="middle" >12 h</text>
<text x="1594.0" y="1316.9" font-size="27" text-anchor="middle" >24 h</text>
<text x="1183" y="1136" font-size="26.6" text-anchor="middle" transform="rotate(-90 1183 1136)">Fluo-3 intensity ratio</text>
<rect x="1689.3" y="1012.6" width="16.1" height="15.8" fill="#fff" stroke="#000" stroke-width="2.8" />
<rect x="1689.3" y="1052.4" width="16.1" height="15.7" fill="#a2a1a6" stroke="#000" stroke-width="2.8" />
<rect x="1687.9" y="1089.9" width="18.9" height="18.9" fill="#000" />
<text x="1729.5" y="1029.8" font-size="26"  >PBS</text>
<text x="1729.5" y="1067.6" font-size="26">CaCl<tspan font-size="19" dy="6.5">2</tspan></text>
<text x="1729.5" y="1108.8" font-size="26"  >DCNP-Ab</text>
<rect x="145.8" y="1318.3" width="15.6" height="15.0" fill="#fff" stroke="#000" stroke-width="2.8" />
<text x="186.2" y="1334.7" font-size="26"  >PBS</text>
<rect x="410.2" y="1319.9" width="16.1" height="15.0" fill="#a2a1a6" stroke="#000" stroke-width="2.8" />
<text x="450" y="1335.3" font-size="26">CaCl<tspan font-size="19" dy="6.5">2</tspan></text>
<rect x="682.0" y="1316.5" width="18.9" height="18.8" fill="#000" />
<text x="723.6" y="1335.3" font-size="26"  >DCNP-Ab</text>
<rect x="129.0" y="1409.4" width="184.5" height="278.0" fill="none" stroke="#000" stroke-width="3"/>
<line x1="117.1" y1="1687.4" x2="129.0" y2="1687.4" stroke="#000" stroke-width="3" stroke-linecap="butt"/>
<text x="114.3" y="1696.4" font-size="25" text-anchor="end" >0.0</text>
<line x1="117.1" y1="1631.8" x2="129.0" y2="1631.8" stroke="#000" stroke-width="3" stroke-linecap="butt"/>
<text x="114.3" y="1640.8" font-size="25" text-anchor="end" >0.5</text>
<line x1="117.1" y1="1576.2" x2="129.0" y2="1576.2" stroke="#000" stroke-width="3" stroke-linecap="butt"/>
<text x="114.3" y="1585.2" font-size="25" text-anchor="end" >1.0</text>
<line x1="117.1" y1="1520.6" x2="129.0" y2="1520.6" stroke="#000" stroke-width="3" stroke-linecap="butt"/>
<text x="114.3" y="1529.6" font-size="25" text-anchor="end" >1.5</text>
<line x1="117.1" y1="1465.0" x2="129.0" y2="1465.0" stroke="#000" stroke-width="3" stroke-linecap="butt"/>
<text x="114.3" y="1474.0" font-size="25" text-anchor="end" >2.0</text>
<line x1="117.1" y1="1409.4" x2="129.0" y2="1409.4" stroke="#000" stroke-width="3" stroke-linecap="butt"/>
<text x="114.3" y="1418.4" font-size="25" text-anchor="end" >2.5</text>
<rect x="148.4" y="1578.8" width="33.2" height="108.6" fill="#fff" stroke="#000" stroke-width="3.0"/>
<line x1="165.0" y1="1577.3" x2="165.0" y2="1575.1" stroke="#000" stroke-width="2.2" stroke-linecap="butt"/>
<line x1="155.0" y1="1575.1" x2="175.0" y2="1575.1" stroke="#000" stroke-width="2.2" stroke-linecap="butt"/>
<circle cx="150.9" cy="1579.2" r="4.3" fill="#fff" stroke="#000" stroke-width="2.4"/>
<circle cx="165.2" cy="1575.1" r="4.3" fill="#fff" stroke="#000" stroke-width="2.4"/>
<circle cx="179.7" cy="1576.8" r="4.3" fill="#fff" stroke="#000" stroke-width="2.4"/>
<rect x="204.0" y="1582.1" width="33.8" height="105.3" fill="#a2a1a6" stroke="#000" stroke-width="3.0"/>
<line x1="220.9" y1="1580.6" x2="220.9" y2="1579.5" stroke="#000" stroke-width="2.2" stroke-linecap="butt"/>
<line x1="210.9" y1="1579.5" x2="230.9" y2="1579.5" stroke="#000" stroke-width="2.2" stroke-linecap="butt"/>
<circle cx="206.5" cy="1580.3" r="4.3" fill="#fff" stroke="#000" stroke-width="2.4"/>
<circle cx="220.8" cy="1578.4" r="4.3" fill="#fff" stroke="#000" stroke-width="2.4"/>
<circle cx="235.3" cy="1580.3" r="4.3" fill="#fff" stroke="#000" stroke-width="2.4"/>
<rect x="258.1" y="1475.6" width="37.2" height="211.8" fill="#000"/>
<line x1="276.7" y1="1475.6" x2="276.7" y2="1474.5" stroke="#000" stroke-width="2.2" stroke-linecap="butt"/>
<line x1="266.7" y1="1474.5" x2="286.7" y2="1474.5" stroke="#000" stroke-width="2.2" stroke-linecap="butt"/>
<circle cx="261.7" cy="1473.3" r="4.3" fill="#fff" stroke="#000" stroke-width="2.4"/>
<circle cx="276.0" cy="1473.3" r="4.3" fill="#fff" stroke="#000" stroke-width="2.4"/>
<circle cx="290.3" cy="1473.3" r="4.3" fill="#fff" stroke="#000" stroke-width="2.4"/>
<text x="219.8" y="1388.4" font-size="26" text-anchor="middle">EL4</text>
<line x1="221.8" y1="1455.3" x2="277.6" y2="1455.3" stroke="#000" stroke-width="2.6" stroke-linecap="butt"/>
<text x="198.6" y="1441.4" font-size="21" font-style="italic" >P &lt; 0.0001</text>
<rect x="392.2" y="1409.4" width="185.4" height="278.0" fill="none" stroke="#000" stroke-width="3"/>
<line x1="380.3" y1="1687.4" x2="392.2" y2="1687.4" stroke="#000" stroke-width="3" stroke-linecap="butt"/>
<text x="377.5" y="1696.4" font-size="25" text-anchor="end" >0.0</text>
<line x1="380.3" y1="1631.8" x2="392.2" y2="1631.8" stroke="#000" stroke-width="3" stroke-linecap="butt"/>
<text x="377.5" y="1640.8" font-size="25" text-anchor="end" >0.5</text>
<line x1="380.3" y1="1576.2" x2="392.2" y2="1576.2" stroke="#000" stroke-width="3" stroke-linecap="butt"/>
<text x="377.5" y="1585.2" font-size="25" text-anchor="end" >1.0</text>
<line x1="380.3" y1="1520.6" x2="392.2" y2="1520.6" stroke="#000" stroke-width="3" stroke-linecap="butt"/>
<text x="377.5" y="1529.6" font-size="25" text-anchor="end" >1.5</text>
<line x1="380.3" y1="1465.0" x2="392.2" y2="1465.0" stroke="#000" stroke-width="3" stroke-linecap="butt"/>
<text x="377.5" y="1474.0" font-size="25" text-anchor="end" >2.0</text>
<line x1="380.3" y1="1409.4" x2="392.2" y2="1409.4" stroke="#000" stroke-width="3" stroke-linecap="butt"/>
<text x="377.5" y="1418.4" font-size="25" text-anchor="end" >2.5</text>
<rect x="412.5" y="1578.8" width="33.7" height="108.6" fill="#fff" stroke="#000" stroke-width="3.0"/>
<line x1="429.4" y1="1577.3" x2="429.4" y2="1574.0" stroke="#000" stroke-width="2.2" stroke-linecap="butt"/>
<line x1="419.4" y1="1574.0" x2="439.4" y2="1574.0" stroke="#000" stroke-width="2.2" stroke-linecap="butt"/>
<circle cx="414.6" cy="1579.9" r="4.3" fill="#fff" stroke="#000" stroke-width="2.4"/>
<circle cx="429.6" cy="1571.8" r="4.3" fill="#fff" stroke="#000" stroke-width="2.4"/>
<circle cx="443.8" cy="1577.3" r="4.3" fill="#fff" stroke="#000" stroke-width="2.4"/>
<rect x="467.8" y="1577.7" width="33.4" height="109.7" fill="#a2a1a6" stroke="#000" stroke-width="3.0"/>
<line x1="484.5" y1="1576.2" x2="484.5" y2="1572.9" stroke="#000" stroke-width="2.2" stroke-linecap="butt"/>
<line x1="474.5" y1="1572.9" x2="494.5" y2="1572.9" stroke="#000" stroke-width="2.2" stroke-linecap="butt"/>
<circle cx="469.7" cy="1577.3" r="4.3" fill="#fff" stroke="#000" stroke-width="2.4"/>
<circle cx="484.7" cy="1569.5" r="4.3" fill="#fff" stroke="#000" stroke-width="2.4"/>
<circle cx="499.4" cy="1576.2" r="4.3" fill="#fff" stroke="#000" stroke-width="2.4"/>
<rect x="522.0" y="1580.6" width="37.3" height="106.8" fill="#000"/>
<line x1="540.6" y1="1580.6" x2="540.6" y2="1579.0" stroke="#000" stroke-width="2.2" stroke-linecap="butt"/>
<line x1="530.6" y1="1579.0" x2="550.6" y2="1579.0" stroke="#000" stroke-width="2.2" stroke-linecap="butt"/>
<circle cx="525.9" cy="1581.8" r="4.3" fill="#fff" stroke="#000" stroke-width="2.4"/>
<circle cx="541.0" cy="1578.4" r="4.3" fill="#fff" stroke="#000" stroke-width="2.4"/>
<circle cx="555.4" cy="1579.0" r="4.3" fill="#fff" stroke="#000" stroke-width="2.4"/>
<text x="490.2" y="1388.4" font-size="26" text-anchor="middle">Naïve CD8<tspan font-size="18.2" dy="-11" dx="1">+</tspan><tspan dy="11" dx="1.5"> OT-1</tspan></text>
<line x1="485.9" y1="1551.3" x2="543.1" y2="1551.3" stroke="#000" stroke-width="2.6" stroke-linecap="butt"/>
<text x="463.6" y="1536.6" font-size="21" font-style="italic" >P = 0.2035</text>
<rect x="678.6" y="1409.4" width="185.0" height="278.0" fill="none" stroke="#000" stroke-width="3"/>
<line x1="666.7" y1="1687.4" x2="678.6" y2="1687.4" stroke="#000" stroke-width="3" stroke-linecap="butt"/>
<text x="663.9" y="1696.4" font-size="25" text-anchor="end" >0.0</text>
<line x1="666.7" y1="1631.8" x2="678.6" y2="1631.8" stroke="#000" stroke-width="3" stroke-linecap="butt"/>
<text x="663.9" y="1640.8" font-size="25" text-anchor="end" >0.5</text>
<line x1="666.7" y1="1576.2" x2="678.6" y2="1576.2" stroke="#000" stroke-width="3" stroke-linecap="butt"/>
<text x="663.9" y="1585.2" font-size="25" text-anchor="end" >1.0</text>
<line x1="666.7" y1="1520.6" x2="678.6" y2="1520.6" stroke="#000" stroke-width="3" stroke-linecap="butt"/>
<text x="663.9" y="1529.6" font-size="25" text-anchor="end" >1.5</text>
<line x1="666.7" y1="1465.0" x2="678.6" y2="1465.0" stroke="#000" stroke-width="3" stroke-linecap="butt"/>
<text x="663.9" y="1474.0" font-size="25" text-anchor="end" >2.0</text>
<line x1="666.7" y1="1409.4" x2="678.6" y2="1409.4" stroke="#000" stroke-width="3" stroke-linecap="butt"/>
<text x="663.9" y="1418.4" font-size="25" text-anchor="end" >2.5</text>
<rect x="698.3" y="1578.8" width="33.1" height="108.6" fill="#fff" stroke="#000" stroke-width="3.0"/>
<line x1="714.8" y1="1577.3" x2="714.8" y2="1575.1" stroke="#000" stroke-width="2.2" stroke-linecap="butt"/>
<line x1="704.8" y1="1575.1" x2="724.8" y2="1575.1" stroke="#000" stroke-width="2.2" stroke-linecap="butt"/>
<circle cx="700.4" cy="1579.9" r="4.3" fill="#fff" stroke="#000" stroke-width="2.4"/>
<circle cx="715.4" cy="1574.0" r="4.3" fill="#fff" stroke="#000" stroke-width="2.4"/>
<circle cx="729.6" cy="1576.2" r="4.3" fill="#fff" stroke="#000" stroke-width="2.4"/>
<rect x="753.9" y="1584.4" width="33.1" height="103.0" fill="#a2a1a6" stroke="#000" stroke-width="3.0"/>
<line x1="770.5" y1="1582.9" x2="770.5" y2="1581.8" stroke="#000" stroke-width="2.2" stroke-linecap="butt"/>
<line x1="760.5" y1="1581.8" x2="780.5" y2="1581.8" stroke="#000" stroke-width="2.2" stroke-linecap="butt"/>
<circle cx="756.0" cy="1584.4" r="4.3" fill="#fff" stroke="#000" stroke-width="2.4"/>
<circle cx="770.2" cy="1581.4" r="4.3" fill="#fff" stroke="#000" stroke-width="2.4"/>
<circle cx="784.6" cy="1582.0" r="4.3" fill="#fff" stroke="#000" stroke-width="2.4"/>
<rect x="807.8" y="1493.7" width="37.0" height="193.7" fill="#000"/>
<line x1="826.3" y1="1493.7" x2="826.3" y2="1487.0" stroke="#000" stroke-width="2.2" stroke-linecap="butt"/>
<line x1="816.3" y1="1487.0" x2="836.3" y2="1487.0" stroke="#000" stroke-width="2.2" stroke-linecap="butt"/>
<circle cx="819.2" cy="1488.6" r="4.3" fill="#fff" stroke="#000" stroke-width="2.4"/>
<circle cx="833.7" cy="1488.6" r="4.3" fill="#fff" stroke="#000" stroke-width="2.4"/>
<circle cx="826.2" cy="1502.8" r="4.3" fill="#fff" stroke="#000" stroke-width="2.4"/>
<text x="781.7" y="1388.4" font-size="26" text-anchor="middle">Primed CD8<tspan font-size="18.2" dy="-11" dx="1">+</tspan><tspan dy="11" dx="1.5"> OT-1</tspan></text>
<line x1="769.2" y1="1472.0" x2="829.7" y2="1472.0" stroke="#000" stroke-width="3.6" stroke-linecap="butt"/>
<text x="750.3" y="1457.9" font-size="21" font-style="italic" >P &lt; 0.0001</text>
<text x="61" y="1546" font-size="26.1" text-anchor="middle" transform="rotate(-90 61 1546)">Fluo-3 MFI fold change</text>
<rect x="1163.5" y="1391.2" width="278.0" height="277.2" fill="none" stroke="#000" stroke-width="3"/>
<line x1="1152.7" y1="1668.4" x2="1163.5" y2="1668.4" stroke="#000" stroke-width="3" stroke-linecap="butt"/>
<text x="1149.9" y="1677.7" font-size="26" text-anchor="end" >1.5</text>
<line x1="1152.7" y1="1542.3" x2="1163.5" y2="1542.3" stroke="#000" stroke-width="3" stroke-linecap="butt"/>
<text x="1149.9" y="1551.6" font-size="26" text-anchor="end" >2.0</text>
<line x1="1152.7" y1="1416.2" x2="1163.5" y2="1416.2" stroke="#000" stroke-width="3" stroke-linecap="butt"/>
<text x="1149.9" y="1425.5" font-size="26" text-anchor="end" >2.5</text>
<rect x="1179.4" y="1464.1" width="26.0" height="204.3" fill="#fff" stroke="#000" stroke-width="2.9"/>
<circle cx="1182.0" cy="1463.9" r="4.3" fill="#fff" stroke="#000" stroke-width="2.4"/>
<circle cx="1192.4" cy="1460.3" r="4.3" fill="#fff" stroke="#000" stroke-width="2.4"/>
<circle cx="1203.2" cy="1460.6" r="4.3" fill="#fff" stroke="#000" stroke-width="2.4"/>
<rect x="1223.2" y="1551.6" width="26.0" height="116.8" fill="#fff" stroke="#000" stroke-width="2.9"/>
<line x1="1236.2" y1="1550.1" x2="1236.2" y2="1537.5" stroke="#000" stroke-width="2.2" stroke-linecap="butt"/>
<line x1="1229.7" y1="1537.5" x2="1242.7" y2="1537.5" stroke="#000" stroke-width="2.2" stroke-linecap="butt"/>
<circle cx="1226.1" cy="1555.9" r="4.3" fill="#fff" stroke="#000" stroke-width="2.4"/>
<circle cx="1236.9" cy="1537.8" r="4.3" fill="#fff" stroke="#000" stroke-width="2.4"/>
<circle cx="1246.5" cy="1554.2" r="4.3" fill="#fff" stroke="#000" stroke-width="2.4"/>
<rect x="1267.2" y="1551.6" width="26.0" height="116.8" fill="#fff" stroke="#000" stroke-width="2.9"/>
<line x1="1280.2" y1="1550.1" x2="1280.2" y2="1535.0" stroke="#000" stroke-width="2.2" stroke-linecap="butt"/>
<line x1="1273.8" y1="1535.0" x2="1286.8" y2="1535.0" stroke="#000" stroke-width="2.2" stroke-linecap="butt"/>
<circle cx="1270.1" cy="1558.2" r="4.3" fill="#fff" stroke="#000" stroke-width="2.4"/>
<circle cx="1280.2" cy="1535.0" r="4.3" fill="#fff" stroke="#000" stroke-width="2.4"/>
<circle cx="1290.6" cy="1555.9" r="4.3" fill="#fff" stroke="#000" stroke-width="2.4"/>
<rect x="1311.0" y="1623.7" width="26.0" height="44.7" fill="#fff" stroke="#000" stroke-width="2.9"/>
<line x1="1324.0" y1="1622.2" x2="1324.0" y2="1619.7" stroke="#000" stroke-width="2.2" stroke-linecap="butt"/>
<line x1="1317.5" y1="1619.7" x2="1330.5" y2="1619.7" stroke="#000" stroke-width="2.2" stroke-linecap="butt"/>
<circle cx="1313.4" cy="1623.3" r="4.3" fill="#fff" stroke="#000" stroke-width="2.4"/>
<circle cx="1324.0" cy="1616.7" r="4.3" fill="#fff" stroke="#000" stroke-width="2.4"/>
<circle cx="1334.4" cy="1623.3" r="4.3" fill="#fff" stroke="#000" stroke-width="2.4"/>
<rect x="1354.5" y="1613.4" width="25.8" height="55.0" fill="#fff" stroke="#000" stroke-width="2.9"/>
<line x1="1367.4" y1="1611.9" x2="1367.4" y2="1604.3" stroke="#000" stroke-width="2.2" stroke-linecap="butt"/>
<line x1="1360.9" y1="1604.3" x2="1373.9" y2="1604.3" stroke="#000" stroke-width="2.2" stroke-linecap="butt"/>
<circle cx="1357.7" cy="1604.6" r="4.3" fill="#fff" stroke="#000" stroke-width="2.4"/>
<circle cx="1368.1" cy="1619.5" r="4.3" fill="#fff" stroke="#000" stroke-width="2.4"/>
<circle cx="1378.2" cy="1610.6" r="4.3" fill="#fff" stroke="#000" stroke-width="2.4"/>
<rect x="1398.4" y="1632.0" width="25.5" height="36.4" fill="#fff" stroke="#000" stroke-width="2.9"/>
<line x1="1411.1" y1="1630.6" x2="1411.1" y2="1622.0" stroke="#000" stroke-width="2.2" stroke-linecap="butt"/>
<line x1="1404.6" y1="1622.0" x2="1417.6" y2="1622.0" stroke="#000" stroke-width="2.2" stroke-linecap="butt"/>
<circle cx="1401.0" cy="1636.4" r="4.3" fill="#fff" stroke="#000" stroke-width="2.4"/>
<circle cx="1411.4" cy="1621.5" r="4.3" fill="#fff" stroke="#000" stroke-width="2.4"/>
<circle cx="1421.5" cy="1631.1" r="4.3" fill="#fff" stroke="#000" stroke-width="2.4"/>
<path d="M1193.6 1430.6V1417.7H1324.7V1479.5M1236.4 1479.5H1410.9M1236.4 1467.5V1491.5M1410.9 1467.5V1491.5" fill="none" stroke="#000" stroke-width="2.9"/>
<text x="1332.0" y="1461.5" font-size="20.7" font-style="italic" >P &lt; 0.0001</text>
<text x="1096" y="1525.8" font-size="27" text-anchor="middle" transform="rotate(-90 1096 1525.8)">Fluo-3 MFI (1x10<tspan font-size="17.6" dy="-11.4">4</tspan><tspan dy="11.4">)</tspan></text>
<text x="1199.5" y="1703.9" font-size="26" text-anchor="end" transform="rotate(-45 1199.5 1703.9)" >αPD-1</text>
<text x="1243.4" y="1703.9" font-size="26" text-anchor="end" transform="rotate(-45 1243.4 1703.9)" >αCD3</text>
<text x="1287.5" y="1703.9" font-size="26" text-anchor="end" transform="rotate(-45 1287.5 1703.9)" >αCD8</text>
<text x="1331.2" y="1703.9" font-size="26" text-anchor="end" transform="rotate(-45 1331.2 1703.9)" >αCTLA-4</text>
<text x="1374.6" y="1703.9" font-size="26" text-anchor="end" transform="rotate(-45 1374.6 1703.9)" >αCD90.2</text>
<text x="1418.3" y="1703.9" font-size="26" text-anchor="end" transform="rotate(-45 1418.3 1703.9)" >IgG</text>
<rect x="1580.3" y="1390.5" width="277.5" height="277.5" fill="none" stroke="#000" stroke-width="3"/>
<line x1="1568.3" y1="1668.0" x2="1580.3" y2="1668.0" stroke="#000" stroke-width="3" stroke-linecap="butt"/>
<text x="1565.5" y="1677.3" font-size="26" text-anchor="end" >0</text>
<line x1="1568.3" y1="1561.5" x2="1580.3" y2="1561.5" stroke="#000" stroke-width="3" stroke-linecap="butt"/>
<text x="1565.5" y="1570.8" font-size="26" text-anchor="end" >50</text>
<line x1="1568.3" y1="1455.0" x2="1580.3" y2="1455.0" stroke="#000" stroke-width="3" stroke-linecap="butt"/>
<text x="1565.5" y="1464.3" font-size="26" text-anchor="end" >100</text>
<rect x="1594.2" y="1553.2" width="20.7" height="114.8" fill="#fff" stroke="#000" stroke-width="2.9"/>
<line x1="1604.6" y1="1551.7" x2="1604.6" y2="1526.4" stroke="#000" stroke-width="2.2" stroke-linecap="butt"/>
<line x1="1599.2" y1="1526.4" x2="1610.0" y2="1526.4" stroke="#000" stroke-width="2.2" stroke-linecap="butt"/>
<circle cx="1604.9" cy="1526.4" r="4.3" fill="#fff" stroke="#000" stroke-width="2.4"/>
<circle cx="1604.9" cy="1557.7" r="4.3" fill="#fff" stroke="#000" stroke-width="2.4"/>
<circle cx="1604.9" cy="1568.5" r="4.3" fill="#fff" stroke="#000" stroke-width="2.4"/>
<rect x="1632.8" y="1467.7" width="19.5" height="200.3" fill="#fff" stroke="#000" stroke-width="2.9"/>
<circle cx="1633.7" cy="1466.3" r="4.3" fill="#fff" stroke="#000" stroke-width="2.4"/>
<circle cx="1642.9" cy="1464.8" r="4.3" fill="#fff" stroke="#000" stroke-width="2.4"/>
<circle cx="1651.3" cy="1466.3" r="4.3" fill="#fff" stroke="#000" stroke-width="2.4"/>
<rect x="1669.7" y="1544.8" width="20.7" height="123.2" fill="#fff" stroke="#000" stroke-width="2.9"/>
<line x1="1680.0" y1="1543.4" x2="1680.0" y2="1530.4" stroke="#000" stroke-width="2.2" stroke-linecap="butt"/>
<line x1="1672.2" y1="1530.4" x2="1687.8" y2="1530.4" stroke="#000" stroke-width="2.2" stroke-linecap="butt"/>
<circle cx="1672.3" cy="1532.5" r="4.3" fill="#fff" stroke="#000" stroke-width="2.4"/>
<circle cx="1688.6" cy="1537.4" r="4.3" fill="#fff" stroke="#000" stroke-width="2.4"/>
<circle cx="1680.2" cy="1554.9" r="4.3" fill="#fff" stroke="#000" stroke-width="2.4"/>
<rect x="1707.0" y="1570.8" width="20.4" height="97.2" fill="#fff" stroke="#000" stroke-width="2.9"/>
<line x1="1717.2" y1="1569.4" x2="1717.2" y2="1558.3" stroke="#000" stroke-width="2.2" stroke-linecap="butt"/>
<line x1="1709.4" y1="1558.3" x2="1725.0" y2="1558.3" stroke="#000" stroke-width="2.2" stroke-linecap="butt"/>
<circle cx="1709.8" cy="1560.2" r="4.3" fill="#fff" stroke="#000" stroke-width="2.4"/>
<circle cx="1725.9" cy="1566.2" r="4.3" fill="#fff" stroke="#000" stroke-width="2.4"/>
<circle cx="1717.5" cy="1580.7" r="4.3" fill="#fff" stroke="#000" stroke-width="2.4"/>
<rect x="1744.8" y="1562.7" width="20.6" height="105.3" fill="#fff" stroke="#000" stroke-width="2.9"/>
<line x1="1755.0" y1="1561.3" x2="1755.0" y2="1552.8" stroke="#000" stroke-width="2.2" stroke-linecap="butt"/>
<line x1="1747.2" y1="1552.8" x2="1762.8" y2="1552.8" stroke="#000" stroke-width="2.2" stroke-linecap="butt"/>
<circle cx="1747.6" cy="1568.5" r="4.3" fill="#fff" stroke="#000" stroke-width="2.4"/>
<circle cx="1756.0" cy="1548.9" r="4.3" fill="#fff" stroke="#000" stroke-width="2.4"/>
<circle cx="1764.4" cy="1562.6" r="4.3" fill="#fff" stroke="#000" stroke-width="2.4"/>
<rect x="1782.2" y="1568.9" width="21.2" height="99.1" fill="#fff" stroke="#000" stroke-width="2.9"/>
<line x1="1792.8" y1="1567.5" x2="1792.8" y2="1556.8" stroke="#000" stroke-width="2.2" stroke-linecap="butt"/>
<line x1="1785.0" y1="1556.8" x2="1800.6" y2="1556.8" stroke="#000" stroke-width="2.2" stroke-linecap="butt"/>
<circle cx="1784.9" cy="1557.7" r="4.3" fill="#fff" stroke="#000" stroke-width="2.4"/>
<circle cx="1801.7" cy="1563.0" r="4.3" fill="#fff" stroke="#000" stroke-width="2.4"/>
<circle cx="1793.3" cy="1579.4" r="4.3" fill="#fff" stroke="#000" stroke-width="2.4"/>
<rect x="1820.8" y="1564.0" width="20.9" height="104.0" fill="#fff" stroke="#000" stroke-width="2.9"/>
<line x1="1831.2" y1="1562.6" x2="1831.2" y2="1537.0" stroke="#000" stroke-width="2.2" stroke-linecap="butt"/>
<line x1="1823.4" y1="1537.0" x2="1839.0" y2="1537.0" stroke="#000" stroke-width="2.2" stroke-linecap="butt"/>
<circle cx="1831.3" cy="1534.9" r="4.3" fill="#fff" stroke="#000" stroke-width="2.4"/>
<circle cx="1831.3" cy="1569.8" r="4.3" fill="#fff" stroke="#000" stroke-width="2.4"/>
<circle cx="1831.3" cy="1584.3" r="4.3" fill="#fff" stroke="#000" stroke-width="2.4"/>
<path d="M1642.4 1448.8V1435.5H1774.1V1497.2M1680.2 1435.5V1448.8M1715.1 1497.2H1831.1M1715.1 1485.6V1508.5M1831.1 1485.6V1508.5" fill="none" stroke="#000" stroke-width="2.9"/>
<text x="1612.1" y="1425.4" font-size="20.7" font-style="italic" >P = 0.0004</text>
<text x="1724.7" y="1524.1" font-size="20.7" font-style="italic" >P &lt; 0.0001</text>
<text x="1718.7" y="1368.4" font-size="26" text-anchor="middle">CD69<tspan font-size="17" dy="-11">+</tspan></text>
<text x="1504" y="1527" font-size="26.7" text-anchor="middle" transform="rotate(-90 1504 1527)">% in CD8<tspan font-size="17" dy="-11">+</tspan><tspan dy="11"> cells</tspan></text>
<text x="1611.8" y="1703.5" font-size="26" text-anchor="end" transform="rotate(-45 1611.8 1703.5)" >PBS</text>
<text x="1649.7" y="1703.5" font-size="26" text-anchor="end" transform="rotate(-45 1649.7 1703.5)" >αPD-1</text>
<text x="1687.2" y="1703.5" font-size="26" text-anchor="end" transform="rotate(-45 1687.2 1703.5)" >αCD3</text>
<text x="1724.4" y="1703.5" font-size="26" text-anchor="end" transform="rotate(-45 1724.4 1703.5)" >αCD8</text>
<text x="1762.2" y="1703.5" font-size="26" text-anchor="end" transform="rotate(-45 1762.2 1703.5)" >αCTLA-4</text>
<text x="1800.0" y="1703.5" font-size="26" text-anchor="end" transform="rotate(-45 1800.0 1703.5)" >αCD90.2</text>
<text x="1838.4" y="1703.5" font-size="26" text-anchor="end" transform="rotate(-45 1838.4 1703.5)" >IgG</text>
<clipPath id="clipR"><rect x="0" y="0" width="1744" height="2483"/></clipPath>
<g clip-path="url(#clipR)">
<circle cx="1585.3" cy="2476.1" r="363.3" fill="#f6ebe6"/>
<path d="M1229.9 2551.6A363.3 363.3 0 0 1 1222.5 2457.1" fill="none" stroke="#dfccc0" stroke-width="15" stroke-linecap="round"/>
<path d="M1229.9 2551.6A363.3 363.3 0 0 1 1222.5 2457.1" fill="none" stroke="#f7ece7" stroke-width="7.2" stroke-linecap="round"/>
<path d="M1229.3 2403.7A363.3 363.3 0 0 1 1274.5 2287.9" fill="none" stroke="#dfccc0" stroke-width="15" stroke-linecap="round"/>
<path d="M1229.3 2403.7A363.3 363.3 0 0 1 1274.5 2287.9" fill="none" stroke="#f7ece7" stroke-width="7.2" stroke-linecap="round"/>
<path d="M1305.8 2244.0A363.3 363.3 0 0 1 1400.9 2163.1" fill="none" stroke="#dfccc0" stroke-width="15" stroke-linecap="round"/>
<path d="M1305.8 2244.0A363.3 363.3 0 0 1 1400.9 2163.1" fill="none" stroke="#f7ece7" stroke-width="7.2" stroke-linecap="round"/>
<path d="M1447.4 2140.0A363.3 363.3 0 0 1 1575.8 2112.9" fill="none" stroke="#dfccc0" stroke-width="15" stroke-linecap="round"/>
<path d="M1447.4 2140.0A363.3 363.3 0 0 1 1575.8 2112.9" fill="none" stroke="#f7ece7" stroke-width="7.2" stroke-linecap="round"/>
<path d="M1624.5 2114.9A363.3 363.3 0 0 1 1818.8 2197.8" fill="none" stroke="#dfccc0" stroke-width="15" stroke-linecap="round"/>
<path d="M1624.5 2114.9A363.3 363.3 0 0 1 1818.8 2197.8" fill="none" stroke="#f7ece7" stroke-width="7.2" stroke-linecap="round"/>
</g>
<path d="M261 1949.2 L540 1949.2 C552 1949.2 558 1957 552 1965 C540 1980 527 1998 524.8 2014 C523 2032 524 2060 533 2080 C541 2096 556 2104 580 2105.6 L640 2105.6 C662 2104 678 2092 684 2072 C689 2052 686 2025 682 2000 C678 1978 680 1962 688 1955 C694 1950.5 702 1949.2 712 1949.2 L1744 1949.2" fill="none" stroke="#dfccc0" stroke-width="19.5" stroke-linejoin="round" />
<path d="M261 1949.2 L540 1949.2 C552 1949.2 558 1957 552 1965 C540 1980 527 1998 524.8 2014 C523 2032 524 2060 533 2080 C541 2096 556 2104 580 2105.6 L640 2105.6 C662 2104 678 2092 684 2072 C689 2052 686 2025 682 2000 C678 1978 680 1962 688 1955 C694 1950.5 702 1949.2 712 1949.2 L1744 1949.2" fill="none" stroke="#f7ece7" stroke-width="10.5" stroke-linejoin="round" />
<line x1="398.6" y1="1921.0" x2="398.6" y2="1964.1" stroke="#8a2a2e" stroke-width="2.0"/>
<line x1="398.6" y1="1921.0" x2="398.6" y2="1964.1" stroke="#b9474b" stroke-width="0.6"/>
<ellipse cx="393.1" cy="1911.0" rx="3.6" ry="6.0" transform="rotate(-35 393.1 1911.0)" fill="#c8464a" stroke="#a33438" stroke-width="0.7"/>
<ellipse cx="397.8" cy="1918.5" rx="3.0" ry="4.6" transform="rotate(-21 397.8 1918.5)" fill="#c8464a" stroke="#a33438" stroke-width="0.7"/>
<line x1="404.4" y1="1921.0" x2="404.4" y2="1964.1" stroke="#8a2a2e" stroke-width="2.0"/>
<line x1="404.4" y1="1921.0" x2="404.4" y2="1964.1" stroke="#b9474b" stroke-width="0.6"/>
<ellipse cx="409.9" cy="1911.0" rx="3.6" ry="6.0" transform="rotate(35 409.9 1911.0)" fill="#c8464a" stroke="#a33438" stroke-width="0.7"/>
<ellipse cx="405.2" cy="1918.5" rx="3.0" ry="4.6" transform="rotate(21 405.2 1918.5)" fill="#c8464a" stroke="#a33438" stroke-width="0.7"/>
<line x1="443.2" y1="1921.0" x2="443.2" y2="1964.1" stroke="#8a2a2e" stroke-width="2.0"/>
<line x1="443.2" y1="1921.0" x2="443.2" y2="1964.1" stroke="#b9474b" stroke-width="0.6"/>
<ellipse cx="437.7" cy="1911.0" rx="3.6" ry="6.0" transform="rotate(-35 437.7 1911.0)" fill="#c8464a" stroke="#a33438" stroke-width="0.7"/>
<ellipse cx="442.4" cy="1918.5" rx="3.0" ry="4.6" transform="rotate(-21 442.4 1918.5)" fill="#c8464a" stroke="#a33438" stroke-width="0.7"/>
<line x1="449.0" y1="1921.0" x2="449.0" y2="1964.1" stroke="#8a2a2e" stroke-width="2.0"/>
<line x1="449.0" y1="1921.0" x2="449.0" y2="1964.1" stroke="#b9474b" stroke-width="0.6"/>
<ellipse cx="454.5" cy="1911.0" rx="3.6" ry="6.0" transform="rotate(35 454.5 1911.0)" fill="#c8464a" stroke="#a33438" stroke-width="0.7"/>
<ellipse cx="449.8" cy="1918.5" rx="3.0" ry="4.6" transform="rotate(21 449.8 1918.5)" fill="#c8464a" stroke="#a33438" stroke-width="0.7"/>
<path d="M411.6 1822.5L408.6 1815.1M408.6 1815.1L402.5 1810.7M408.6 1815.1L409.9 1807.7" fill="none" stroke="#2f5fa8" stroke-width="3.00" stroke-linecap="round"/>
<path d="M411.6 1822.5L408.6 1815.1M408.6 1815.1L402.5 1810.7M408.6 1815.1L409.9 1807.7" fill="none" stroke="#7aa6e6" stroke-width="1.10" stroke-linecap="round"/>
<path d="M442.6 1822.5L445.6 1815.1M445.6 1815.1L444.3 1807.7M445.6 1815.1L451.7 1810.7" fill="none" stroke="#2f5fa8" stroke-width="3.00" stroke-linecap="round"/>
<path d="M442.6 1822.5L445.6 1815.1M445.6 1815.1L444.3 1807.7M445.6 1815.1L451.7 1810.7" fill="none" stroke="#7aa6e6" stroke-width="1.10" stroke-linecap="round"/>
<path d="M388.7 1845.4L381.3 1842.4M381.3 1842.4L373.9 1843.7M381.3 1842.4L376.9 1836.3" fill="none" stroke="#2f5fa8" stroke-width="3.00" stroke-linecap="round"/>
<path d="M388.7 1845.4L381.3 1842.4M381.3 1842.4L373.9 1843.7M381.3 1842.4L376.9 1836.3" fill="none" stroke="#7aa6e6" stroke-width="1.10" stroke-linecap="round"/>
<path d="M465.5 1845.4L472.9 1842.4M472.9 1842.4L477.3 1836.3M472.9 1842.4L480.3 1843.7" fill="none" stroke="#2f5fa8" stroke-width="3.00" stroke-linecap="round"/>
<path d="M465.5 1845.4L472.9 1842.4M472.9 1842.4L477.3 1836.3M472.9 1842.4L480.3 1843.7" fill="none" stroke="#7aa6e6" stroke-width="1.10" stroke-linecap="round"/>
<path d="M388.7 1876.4L381.3 1879.4M381.3 1879.4L376.9 1885.5M381.3 1879.4L373.9 1878.1" fill="none" stroke="#2f5fa8" stroke-width="3.00" stroke-linecap="round"/>
<path d="M388.7 1876.4L381.3 1879.4M381.3 1879.4L376.9 1885.5M381.3 1879.4L373.9 1878.1" fill="none" stroke="#7aa6e6" stroke-width="1.10" stroke-linecap="round"/>
<path d="M465.5 1876.4L472.9 1879.4M472.9 1879.4L480.3 1878.1M472.9 1879.4L477.3 1885.5" fill="none" stroke="#2f5fa8" stroke-width="3.00" stroke-linecap="round"/>
<path d="M465.5 1876.4L472.9 1879.4M472.9 1879.4L480.3 1878.1M472.9 1879.4L477.3 1885.5" fill="none" stroke="#7aa6e6" stroke-width="1.10" stroke-linecap="round"/>
<path d="M411.6 1899.3L408.6 1906.7M408.6 1906.7L409.9 1914.1M408.6 1906.7L402.5 1911.1" fill="none" stroke="#2f5fa8" stroke-width="3.00" stroke-linecap="round"/>
<path d="M411.6 1899.3L408.6 1906.7M408.6 1906.7L409.9 1914.1M408.6 1906.7L402.5 1911.1" fill="none" stroke="#7aa6e6" stroke-width="1.10" stroke-linecap="round"/>
<path d="M442.6 1899.3L445.6 1906.7M445.6 1906.7L451.7 1911.1M445.6 1906.7L444.3 1914.1" fill="none" stroke="#2f5fa8" stroke-width="3.00" stroke-linecap="round"/>
<path d="M442.6 1899.3L445.6 1906.7M445.6 1906.7L451.7 1911.1M445.6 1906.7L444.3 1914.1" fill="none" stroke="#7aa6e6" stroke-width="1.10" stroke-linecap="round"/>
<circle cx="427.1" cy="1860.9" r="42.4" fill="#dcf0d6" stroke="#75b06f" stroke-width="1.30"/>
<circle cx="427.1" cy="1860.9" r="34.6" fill="#f2e0b2" stroke="#c9a05a" stroke-width="1.00"/>
<circle cx="427.1" cy="1860.9" r="27.2" fill="#ebf2fb" stroke="#a4bde0" stroke-width="1.30"/>
<circle cx="429.3" cy="1829.8" r="3.70" fill="#d8712b" stroke="#9a4815" stroke-width="0.80"/>
<circle cx="412.5" cy="1833.4" r="3.70" fill="#d8712b" stroke="#9a4815" stroke-width="0.80"/>
<circle cx="400.9" cy="1843.9" r="3.70" fill="#d8712b" stroke="#9a4815" stroke-width="0.80"/>
<circle cx="395.9" cy="1862.5" r="3.70" fill="#d8712b" stroke="#9a4815" stroke-width="0.80"/>
<circle cx="405.0" cy="1883.0" r="3.70" fill="#d8712b" stroke="#9a4815" stroke-width="0.80"/>
<circle cx="423.3" cy="1891.9" r="3.70" fill="#d8712b" stroke="#9a4815" stroke-width="0.80"/>
<circle cx="437.3" cy="1890.4" r="3.70" fill="#d8712b" stroke="#9a4815" stroke-width="0.80"/>
<circle cx="455.1" cy="1874.6" r="3.70" fill="#d8712b" stroke="#9a4815" stroke-width="0.80"/>
<circle cx="457.4" cy="1853.4" r="3.70" fill="#d8712b" stroke="#9a4815" stroke-width="0.80"/>
<circle cx="452.0" cy="1842.1" r="3.70" fill="#d8712b" stroke="#9a4815" stroke-width="0.80"/>
<line x1="578.9" y1="2079.0" x2="578.9" y2="2115.7" stroke="#8a2a2e" stroke-width="2.0"/>
<line x1="578.9" y1="2079.0" x2="578.9" y2="2115.7" stroke="#b9474b" stroke-width="0.6"/>
<ellipse cx="573.4" cy="2069.0" rx="3.6" ry="6.0" transform="rotate(-35 573.4 2069.0)" fill="#c8464a" stroke="#a33438" stroke-width="0.7"/>
<ellipse cx="578.1" cy="2076.5" rx="3.0" ry="4.6" transform="rotate(-21 578.1 2076.5)" fill="#c8464a" stroke="#a33438" stroke-width="0.7"/>
<line x1="584.7" y1="2079.0" x2="584.7" y2="2115.7" stroke="#8a2a2e" stroke-width="2.0"/>
<line x1="584.7" y1="2079.0" x2="584.7" y2="2115.7" stroke="#b9474b" stroke-width="0.6"/>
<ellipse cx="590.2" cy="2069.0" rx="3.6" ry="6.0" transform="rotate(35 590.2 2069.0)" fill="#c8464a" stroke="#a33438" stroke-width="0.7"/>
<ellipse cx="585.5" cy="2076.5" rx="3.0" ry="4.6" transform="rotate(21 585.5 2076.5)" fill="#c8464a" stroke="#a33438" stroke-width="0.7"/>
<line x1="623.0" y1="2079.0" x2="623.0" y2="2115.7" stroke="#8a2a2e" stroke-width="2.0"/>
<line x1="623.0" y1="2079.0" x2="623.0" y2="2115.7" stroke="#b9474b" stroke-width="0.6"/>
<ellipse cx="617.5" cy="2069.0" rx="3.6" ry="6.0" transform="rotate(-35 617.5 2069.0)" fill="#c8464a" stroke="#a33438" stroke-width="0.7"/>
<ellipse cx="622.2" cy="2076.5" rx="3.0" ry="4.6" transform="rotate(-21 622.2 2076.5)" fill="#c8464a" stroke="#a33438" stroke-width="0.7"/>
<line x1="628.8" y1="2079.0" x2="628.8" y2="2115.7" stroke="#8a2a2e" stroke-width="2.0"/>
<line x1="628.8" y1="2079.0" x2="628.8" y2="2115.7" stroke="#b9474b" stroke-width="0.6"/>
<ellipse cx="634.3" cy="2069.0" rx="3.6" ry="6.0" transform="rotate(35 634.3 2069.0)" fill="#c8464a" stroke="#a33438" stroke-width="0.7"/>
<ellipse cx="629.6" cy="2076.5" rx="3.0" ry="4.6" transform="rotate(21 629.6 2076.5)" fill="#c8464a" stroke="#a33438" stroke-width="0.7"/>
<path d="M594.3 1975.2L591.8 1967.6M591.8 1967.6L586.1 1962.8M591.8 1967.6L593.6 1960.3" fill="none" stroke="#2f5fa8" stroke-width="3.00" stroke-linecap="round"/>
<path d="M594.3 1975.2L591.8 1967.6M591.8 1967.6L586.1 1962.8M591.8 1967.6L593.6 1960.3" fill="none" stroke="#7aa6e6" stroke-width="1.10" stroke-linecap="round"/>
<path d="M626.5 1978.0L630.3 1971.0M630.3 1971.0L629.8 1963.5M630.3 1971.0L636.8 1967.2" fill="none" stroke="#2f5fa8" stroke-width="3.00" stroke-linecap="round"/>
<path d="M626.5 1978.0L630.3 1971.0M630.3 1971.0L629.8 1963.5M630.3 1971.0L636.8 1967.2" fill="none" stroke="#7aa6e6" stroke-width="1.10" stroke-linecap="round"/>
<path d="M568.2 2000.4L560.7 1997.7M560.7 1997.7L553.3 1999.3M560.7 1997.7L556.1 1991.8" fill="none" stroke="#2f5fa8" stroke-width="3.00" stroke-linecap="round"/>
<path d="M568.2 2000.4L560.7 1997.7M560.7 1997.7L553.3 1999.3M560.7 1997.7L556.1 1991.8" fill="none" stroke="#7aa6e6" stroke-width="1.10" stroke-linecap="round"/>
<path d="M646.5 2001.8L654.1 1999.3M654.1 1999.3L658.9 1993.6M654.1 1999.3L661.4 2001.1" fill="none" stroke="#2f5fa8" stroke-width="3.00" stroke-linecap="round"/>
<path d="M646.5 2001.8L654.1 1999.3M654.1 1999.3L658.9 1993.6M654.1 1999.3L661.4 2001.1" fill="none" stroke="#7aa6e6" stroke-width="1.10" stroke-linecap="round"/>
<path d="M568.2 2028.8L560.7 2031.5M560.7 2031.5L556.1 2037.4M560.7 2031.5L553.3 2029.9" fill="none" stroke="#2f5fa8" stroke-width="3.00" stroke-linecap="round"/>
<path d="M568.2 2028.8L560.7 2031.5M560.7 2031.5L556.1 2037.4M560.7 2031.5L553.3 2029.9" fill="none" stroke="#7aa6e6" stroke-width="1.10" stroke-linecap="round"/>
<path d="M646.0 2028.8L653.5 2031.5M653.5 2031.5L660.9 2029.9M653.5 2031.5L658.1 2037.4" fill="none" stroke="#2f5fa8" stroke-width="3.00" stroke-linecap="round"/>
<path d="M646.0 2028.8L653.5 2031.5M653.5 2031.5L660.9 2029.9M653.5 2031.5L658.1 2037.4" fill="none" stroke="#7aa6e6" stroke-width="1.10" stroke-linecap="round"/>
<path d="M589.6 2052.1L586.2 2059.4M586.2 2059.4L587.1 2066.8M586.2 2059.4L579.9 2063.5" fill="none" stroke="#2f5fa8" stroke-width="3.00" stroke-linecap="round"/>
<path d="M589.6 2052.1L586.2 2059.4M586.2 2059.4L587.1 2066.8M586.2 2059.4L579.9 2063.5" fill="none" stroke="#7aa6e6" stroke-width="1.10" stroke-linecap="round"/>
<path d="M624.6 2052.1L628.0 2059.4M628.0 2059.4L634.3 2063.5M628.0 2059.4L627.1 2066.8" fill="none" stroke="#2f5fa8" stroke-width="3.00" stroke-linecap="round"/>
<path d="M624.6 2052.1L628.0 2059.4M628.0 2059.4L634.3 2063.5M628.0 2059.4L627.1 2066.8" fill="none" stroke="#7aa6e6" stroke-width="1.10" stroke-linecap="round"/>
<circle cx="607.1" cy="2014.6" r="42.4" fill="#dcf0d6" stroke="#75b06f" stroke-width="1.30"/>
<circle cx="607.1" cy="2014.6" r="34.6" fill="#f2e0b2" stroke="#c9a05a" stroke-width="1.00"/>
<circle cx="607.1" cy="2014.6" r="27.2" fill="#ebf2fb" stroke="#a4bde0" stroke-width="1.30"/>
<circle cx="609.3" cy="1983.5" r="3.70" fill="#d8712b" stroke="#9a4815" stroke-width="0.80"/>
<circle cx="592.5" cy="1987.1" r="3.70" fill="#d8712b" stroke="#9a4815" stroke-width="0.80"/>
<circle cx="580.9" cy="1997.6" r="3.70" fill="#d8712b" stroke="#9a4815" stroke-width="0.80"/>
<circle cx="575.9" cy="2016.2" r="3.70" fill="#d8712b" stroke="#9a4815" stroke-width="0.80"/>
<circle cx="585.0" cy="2036.7" r="3.70" fill="#d8712b" stroke="#9a4815" stroke-width="0.80"/>
<circle cx="603.3" cy="2045.6" r="3.70" fill="#d8712b" stroke="#9a4815" stroke-width="0.80"/>
<circle cx="617.3" cy="2044.1" r="3.70" fill="#d8712b" stroke="#9a4815" stroke-width="0.80"/>
<circle cx="635.1" cy="2028.3" r="3.70" fill="#d8712b" stroke="#9a4815" stroke-width="0.80"/>
<circle cx="637.4" cy="2007.1" r="3.70" fill="#d8712b" stroke="#9a4815" stroke-width="0.80"/>
<circle cx="632.0" cy="1995.8" r="3.70" fill="#d8712b" stroke="#9a4815" stroke-width="0.80"/>
<path d="M510.8 1858.2 C548 1866 580 1890 588 1928" fill="none" stroke="#1a1a1a" stroke-width="2.8"/>
<path d="M590.5 1941.7L581.7 1929.0L594.5 1926.8Z" fill="#1a1a1a"/>
<path d="M473.3 2075.4 C440 2094 414 2125 413.7 2172" fill="none" stroke="#1a1a1a" stroke-width="2.8"/>
<path d="M413.7 2183.1L407.7 2170.1L419.7 2170.1Z" fill="#1a1a1a"/>
<ellipse cx="434.9" cy="2277.1" rx="125.1" ry="66.9" fill="none" stroke="#dfccc0" stroke-width="17.2"/>
<ellipse cx="434.9" cy="2277.1" rx="125.1" ry="66.9" fill="none" stroke="#f7ece7" stroke-width="9.5"/>
<path d="M374.8 2252.9L372.9 2248.1M372.9 2248.1L369.0 2245.3M372.9 2248.1L373.7 2243.4" fill="none" stroke="#2f5fa8" stroke-width="1.92" stroke-linecap="round"/>
<path d="M374.8 2252.9L372.9 2248.1M372.9 2248.1L369.0 2245.3M372.9 2248.1L373.7 2243.4" fill="none" stroke="#7aa6e6" stroke-width="0.70" stroke-linecap="round"/>
<path d="M394.4 2252.9L396.3 2248.1M396.3 2248.1L395.5 2243.4M396.3 2248.1L400.2 2245.3" fill="none" stroke="#2f5fa8" stroke-width="1.92" stroke-linecap="round"/>
<path d="M394.4 2252.9L396.3 2248.1M396.3 2248.1L395.5 2243.4M396.3 2248.1L400.2 2245.3" fill="none" stroke="#7aa6e6" stroke-width="0.70" stroke-linecap="round"/>
<path d="M360.4 2267.3L355.6 2265.4M355.6 2265.4L350.9 2266.2M355.6 2265.4L352.8 2261.5" fill="none" stroke="#2f5fa8" stroke-width="1.92" stroke-linecap="round"/>
<path d="M360.4 2267.3L355.6 2265.4M355.6 2265.4L350.9 2266.2M355.6 2265.4L352.8 2261.5" fill="none" stroke="#7aa6e6" stroke-width="0.70" stroke-linecap="round"/>
<path d="M408.8 2267.3L413.6 2265.4M413.6 2265.4L416.4 2261.5M413.6 2265.4L418.3 2266.2" fill="none" stroke="#2f5fa8" stroke-width="1.92" stroke-linecap="round"/>
<path d="M408.8 2267.3L413.6 2265.4M413.6 2265.4L416.4 2261.5M413.6 2265.4L418.3 2266.2" fill="none" stroke="#7aa6e6" stroke-width="0.70" stroke-linecap="round"/>
<path d="M360.4 2286.9L355.6 2288.8M355.6 2288.8L352.8 2292.7M355.6 2288.8L350.9 2288.0" fill="none" stroke="#2f5fa8" stroke-width="1.92" stroke-linecap="round"/>
<path d="M360.4 2286.9L355.6 2288.8M355.6 2288.8L352.8 2292.7M355.6 2288.8L350.9 2288.0" fill="none" stroke="#7aa6e6" stroke-width="0.70" stroke-linecap="round"/>
<path d="M408.8 2286.9L413.6 2288.8M413.6 2288.8L418.3 2288.0M413.6 2288.8L416.4 2292.7" fill="none" stroke="#2f5fa8" stroke-width="1.92" stroke-linecap="round"/>
<path d="M408.8 2286.9L413.6 2288.8M413.6 2288.8L418.3 2288.0M413.6 2288.8L416.4 2292.7" fill="none" stroke="#7aa6e6" stroke-width="0.70" stroke-linecap="round"/>
<path d="M374.8 2301.3L372.9 2306.1M372.9 2306.1L373.7 2310.8M372.9 2306.1L369.0 2308.9" fill="none" stroke="#2f5fa8" stroke-width="1.92" stroke-linecap="round"/>
<path d="M374.8 2301.3L372.9 2306.1M372.9 2306.1L373.7 2310.8M372.9 2306.1L369.0 2308.9" fill="none" stroke="#7aa6e6" stroke-width="0.70" stroke-linecap="round"/>
<path d="M394.4 2301.3L396.3 2306.1M396.3 2306.1L400.2 2308.9M396.3 2306.1L395.5 2310.8" fill="none" stroke="#2f5fa8" stroke-width="1.92" stroke-linecap="round"/>
<path d="M394.4 2301.3L396.3 2306.1M396.3 2306.1L400.2 2308.9M396.3 2306.1L395.5 2310.8" fill="none" stroke="#7aa6e6" stroke-width="0.70" stroke-linecap="round"/>
<circle cx="384.6" cy="2277.1" r="27.1" fill="#dcf0d6" stroke="#75b06f" stroke-width="0.83"/>
<circle cx="384.6" cy="2277.1" r="22.1" fill="#f2e0b2" stroke="#c9a05a" stroke-width="0.64"/>
<circle cx="384.6" cy="2277.1" r="17.4" fill="#ebf2fb" stroke="#a4bde0" stroke-width="0.83"/>
<circle cx="386.0" cy="2257.2" r="2.37" fill="#d8712b" stroke="#9a4815" stroke-width="0.51"/>
<circle cx="375.2" cy="2259.5" r="2.37" fill="#d8712b" stroke="#9a4815" stroke-width="0.51"/>
<circle cx="367.9" cy="2266.2" r="2.37" fill="#d8712b" stroke="#9a4815" stroke-width="0.51"/>
<circle cx="364.7" cy="2278.1" r="2.37" fill="#d8712b" stroke="#9a4815" stroke-width="0.51"/>
<circle cx="370.5" cy="2291.2" r="2.37" fill="#d8712b" stroke="#9a4815" stroke-width="0.51"/>
<circle cx="382.2" cy="2296.9" r="2.37" fill="#d8712b" stroke="#9a4815" stroke-width="0.51"/>
<circle cx="391.1" cy="2296.0" r="2.37" fill="#d8712b" stroke="#9a4815" stroke-width="0.51"/>
<circle cx="402.5" cy="2285.9" r="2.37" fill="#d8712b" stroke="#9a4815" stroke-width="0.51"/>
<circle cx="404.0" cy="2272.3" r="2.37" fill="#d8712b" stroke="#9a4815" stroke-width="0.51"/>
<circle cx="400.5" cy="2265.1" r="2.37" fill="#d8712b" stroke="#9a4815" stroke-width="0.51"/>
<path d="M460.8 2255.6L458.9 2250.8M458.9 2250.8L455.0 2248.0M458.9 2250.8L459.7 2246.1" fill="none" stroke="#2f5fa8" stroke-width="1.92" stroke-linecap="round"/>
<path d="M460.8 2255.6L458.9 2250.8M458.9 2250.8L455.0 2248.0M458.9 2250.8L459.7 2246.1" fill="none" stroke="#7aa6e6" stroke-width="0.70" stroke-linecap="round"/>
<path d="M480.4 2255.6L482.3 2250.8M482.3 2250.8L481.5 2246.1M482.3 2250.8L486.2 2248.0" fill="none" stroke="#2f5fa8" stroke-width="1.92" stroke-linecap="round"/>
<path d="M480.4 2255.6L482.3 2250.8M482.3 2250.8L481.5 2246.1M482.3 2250.8L486.2 2248.0" fill="none" stroke="#7aa6e6" stroke-width="0.70" stroke-linecap="round"/>
<path d="M446.4 2270.0L441.6 2268.1M441.6 2268.1L436.9 2268.9M441.6 2268.1L438.8 2264.2" fill="none" stroke="#2f5fa8" stroke-width="1.92" stroke-linecap="round"/>
<path d="M446.4 2270.0L441.6 2268.1M441.6 2268.1L436.9 2268.9M441.6 2268.1L438.8 2264.2" fill="none" stroke="#7aa6e6" stroke-width="0.70" stroke-linecap="round"/>
<path d="M494.8 2270.0L499.6 2268.1M499.6 2268.1L502.4 2264.2M499.6 2268.1L504.3 2268.9" fill="none" stroke="#2f5fa8" stroke-width="1.92" stroke-linecap="round"/>
<path d="M494.8 2270.0L499.6 2268.1M499.6 2268.1L502.4 2264.2M499.6 2268.1L504.3 2268.9" fill="none" stroke="#7aa6e6" stroke-width="0.70" stroke-linecap="round"/>
<path d="M446.4 2289.6L441.6 2291.5M441.6 2291.5L438.8 2295.4M441.6 2291.5L436.9 2290.7" fill="none" stroke="#2f5fa8" stroke-width="1.92" stroke-linecap="round"/>
<path d="M446.4 2289.6L441.6 2291.5M441.6 2291.5L438.8 2295.4M441.6 2291.5L436.9 2290.7" fill="none" stroke="#7aa6e6" stroke-width="0.70" stroke-linecap="round"/>
<path d="M494.8 2289.6L499.6 2291.5M499.6 2291.5L504.3 2290.7M499.6 2291.5L502.4 2295.4" fill="none" stroke="#2f5fa8" stroke-width="1.92" stroke-linecap="round"/>
<path d="M494.8 2289.6L499.6 2291.5M499.6 2291.5L504.3 2290.7M499.6 2291.5L502.4 2295.4" fill="none" stroke="#7aa6e6" stroke-width="0.70" stroke-linecap="round"/>
<path d="M460.8 2304.0L458.9 2308.8M458.9 2308.8L459.7 2313.5M458.9 2308.8L455.0 2311.6" fill="none" stroke="#2f5fa8" stroke-width="1.92" stroke-linecap="round"/>
<path d="M460.8 2304.0L458.9 2308.8M458.9 2308.8L459.7 2313.5M458.9 2308.8L455.0 2311.6" fill="none" stroke="#7aa6e6" stroke-width="0.70" stroke-linecap="round"/>
<path d="M480.4 2304.0L482.3 2308.8M482.3 2308.8L486.2 2311.6M482.3 2308.8L481.5 2313.5" fill="none" stroke="#2f5fa8" stroke-width="1.92" stroke-linecap="round"/>
<path d="M480.4 2304.0L482.3 2308.8M482.3 2308.8L486.2 2311.6M482.3 2308.8L481.5 2313.5" fill="none" stroke="#7aa6e6" stroke-width="0.70" stroke-linecap="round"/>
<circle cx="470.6" cy="2279.8" r="27.1" fill="#dcf0d6" stroke="#75b06f" stroke-width="0.83"/>
<circle cx="470.6" cy="2279.8" r="22.1" fill="#f2e0b2" stroke="#c9a05a" stroke-width="0.64"/>
<circle cx="470.6" cy="2279.8" r="17.4" fill="#ebf2fb" stroke="#a4bde0" stroke-width="0.83"/>
<circle cx="472.0" cy="2259.9" r="2.37" fill="#d8712b" stroke="#9a4815" stroke-width="0.51"/>
<circle cx="461.2" cy="2262.2" r="2.37" fill="#d8712b" stroke="#9a4815" stroke-width="0.51"/>
<circle cx="453.9" cy="2268.9" r="2.37" fill="#d8712b" stroke="#9a4815" stroke-width="0.51"/>
<circle cx="450.7" cy="2280.8" r="2.37" fill="#d8712b" stroke="#9a4815" stroke-width="0.51"/>
<circle cx="456.5" cy="2293.9" r="2.37" fill="#d8712b" stroke="#9a4815" stroke-width="0.51"/>
<circle cx="468.2" cy="2299.6" r="2.37" fill="#d8712b" stroke="#9a4815" stroke-width="0.51"/>
<circle cx="477.1" cy="2298.7" r="2.37" fill="#d8712b" stroke="#9a4815" stroke-width="0.51"/>
<circle cx="488.5" cy="2288.6" r="2.37" fill="#d8712b" stroke="#9a4815" stroke-width="0.51"/>
<circle cx="490.0" cy="2275.0" r="2.37" fill="#d8712b" stroke="#9a4815" stroke-width="0.51"/>
<circle cx="486.5" cy="2267.8" r="2.37" fill="#d8712b" stroke="#9a4815" stroke-width="0.51"/>
<line x1="596.4" y1="2277.1" x2="679" y2="2277.1" stroke="#1a1a1a" stroke-width="2.8"/>
<path d="M690.4 2277.1L677.4 2283.1L677.4 2271.1Z" fill="#1a1a1a"/>
<path d="M911 2152.9 L911 2178.1 C911 2188 902 2199 891.8 2204.6 C882 2209 875 2212 867.7 2213 C858 2214 852 2212 846.1 2209.4 C838 2205 833 2199 829.2 2195 C823 2188 819 2181 814.8 2175.7 C809 2168 805 2163 800.3 2161.3 C795 2158 790 2157.7 785.9 2157.7 C779 2158 774 2160 769 2163.7 C761 2169 755 2174 749.8 2180.5 C743 2188 737 2195 732.9 2202.2 C726 2213 723 2222 720.9 2231.1 C718 2243 716 2254 716.1 2264.8 C716 2277 716 2288 717.3 2298.5 C719 2308 722 2317 725.7 2324.9 C730 2333 735 2339 742.6 2344.2 C750 2349 758 2352 766.6 2352.6 C776 2353 785 2351 793.1 2350.2 C801 2349.5 809 2348 814.8 2351.4 C821 2355 825 2359 826.8 2363.5 C830 2370 832 2376 831.6 2382.7 C831 2390 830.5 2395 829.2 2397.1 C827 2402 825 2406 822 2409.2" fill="none" stroke="#dfccc0" stroke-width="15.5" stroke-linejoin="round" />
<path d="M911 2152.9 L911 2178.1 C911 2188 902 2199 891.8 2204.6 C882 2209 875 2212 867.7 2213 C858 2214 852 2212 846.1 2209.4 C838 2205 833 2199 829.2 2195 C823 2188 819 2181 814.8 2175.7 C809 2168 805 2163 800.3 2161.3 C795 2158 790 2157.7 785.9 2157.7 C779 2158 774 2160 769 2163.7 C761 2169 755 2174 749.8 2180.5 C743 2188 737 2195 732.9 2202.2 C726 2213 723 2222 720.9 2231.1 C718 2243 716 2254 716.1 2264.8 C716 2277 716 2288 717.3 2298.5 C719 2308 722 2317 725.7 2324.9 C730 2333 735 2339 742.6 2344.2 C750 2349 758 2352 766.6 2352.6 C776 2353 785 2351 793.1 2350.2 C801 2349.5 809 2348 814.8 2351.4 C821 2355 825 2359 826.8 2363.5 C830 2370 832 2376 831.6 2382.7 C831 2390 830.5 2395 829.2 2397.1 C827 2402 825 2406 822 2409.2" fill="none" stroke="#f7ece7" stroke-width="8.0" stroke-linejoin="round" />
<circle cx="965.2" cy="2158.9" r="8.9" fill="#d8722f" stroke="#8a3f14" stroke-width="1.3"/>
<circle cx="1008.5" cy="2155.3" r="8.9" fill="#d8722f" stroke="#8a3f14" stroke-width="1.3"/>
<circle cx="947.6" cy="2185.4" r="8.9" fill="#d8722f" stroke="#8a3f14" stroke-width="1.3"/>
<circle cx="992.4" cy="2197.9" r="8.9" fill="#d8722f" stroke="#8a3f14" stroke-width="1.3"/>
<circle cx="966.4" cy="2224.3" r="8.9" fill="#d8722f" stroke="#8a3f14" stroke-width="1.3"/>
<circle cx="1028.2" cy="2225.1" r="8.9" fill="#d8722f" stroke="#8a3f14" stroke-width="1.3"/>
<circle cx="932.2" cy="2238.3" r="8.9" fill="#d8722f" stroke="#8a3f14" stroke-width="1.3"/>
<circle cx="950" cy="2251.5" r="8.9" fill="#d8722f" stroke="#8a3f14" stroke-width="1.3"/>
<circle cx="992.4" cy="2270.8" r="8.9" fill="#d8722f" stroke="#8a3f14" stroke-width="1.3"/>
<circle cx="834.5" cy="2307.6" r="16.2" fill="#e2eefa" stroke="#3f74b2" stroke-width="1.5"/>
<text x="823.0" y="2312.2" font-size="12.5" fill="#3a3a3a" textLength="23" lengthAdjust="spacingAndGlyphs">Ca<tspan font-size="9" dy="-3.5">2+</tspan></text>
<circle cx="901.9" cy="2284.5" r="16.2" fill="#e2eefa" stroke="#3f74b2" stroke-width="1.5"/>
<text x="890.4" y="2289.1" font-size="12.5" fill="#3a3a3a" textLength="23" lengthAdjust="spacingAndGlyphs">Ca<tspan font-size="9" dy="-3.5">2+</tspan></text>
<circle cx="965.9" cy="2333.4" r="16.2" fill="#e2eefa" stroke="#3f74b2" stroke-width="1.5"/>
<text x="954.4" y="2338.0" font-size="12.5" fill="#3a3a3a" textLength="23" lengthAdjust="spacingAndGlyphs">Ca<tspan font-size="9" dy="-3.5">2+</tspan></text>
<circle cx="901.9" cy="2359.8" r="16.2" fill="#e2eefa" stroke="#3f74b2" stroke-width="1.5"/>
<text x="890.4" y="2364.4" font-size="12.5" fill="#3a3a3a" textLength="23" lengthAdjust="spacingAndGlyphs">Ca<tspan font-size="9" dy="-3.5">2+</tspan></text>
<circle cx="1008.5" cy="2359.8" r="16.2" fill="#e2eefa" stroke="#3f74b2" stroke-width="1.5"/>
<text x="997.0" y="2364.4" font-size="12.5" fill="#3a3a3a" textLength="23" lengthAdjust="spacingAndGlyphs">Ca<tspan font-size="9" dy="-3.5">2+</tspan></text>
<circle cx="917.1" cy="2399.1" r="16.2" fill="#e2eefa" stroke="#3f74b2" stroke-width="1.5"/>
<text x="905.6" y="2403.7" font-size="12.5" fill="#3a3a3a" textLength="23" lengthAdjust="spacingAndGlyphs">Ca<tspan font-size="9" dy="-3.5">2+</tspan></text>
<path d="M985.2 2143.9 C1010 2118 1040 2108 1060 2110 C1075 2111 1085 2115 1092 2120" fill="none" stroke="#1a1a1a" stroke-width="2.8"/>
<path d="M1101.6 2125.4L1087.3 2124.6L1092.9 2114.0Z" fill="#1a1a1a"/>
<line x1="1171.3" y1="2155.5" x2="1222" y2="2155.5" stroke="#1a1a1a" stroke-width="2.4"/>
<path d="M1234.0 2155.5L1221.0 2161.0L1221.0 2150.0Z" fill="#1a1a1a"/>
<line x1="1327.5" y1="2164.3" x2="1358.5" y2="2223.5" stroke="#1a1a1a" stroke-width="2.4"/>
<path d="M1363.0 2234.4L1352.4 2225.1L1362.2 2220.3Z" fill="#1a1a1a"/>
<path d="M1127.6 2193.4 V2380.9 H1386" fill="none" stroke="#1a1a1a" stroke-width="2.2"/>
<path d="M1398.4 2380.9L1383.4 2387.9L1383.4 2373.9Z" fill="#1a1a1a"/>
<path d="M1006.1 2397.1 V2418.5 H1284" fill="none" stroke="#1a1a1a" stroke-width="2.2"/>
<path d="M1297.3 2418.5L1282.3 2425.5L1282.3 2411.5Z" fill="#1a1a1a"/>
<polyline points="1319.2,2293.0 1320.4,2293.7 1321.6,2294.6 1322.8,2295.6 1324.0,2296.8 1325.2,2298.0 1326.4,2299.3 1327.6,2300.6 1328.8,2301.8 1330.0,2303.0 1331.2,2304.0 1332.4,2304.9 1333.6,2305.7 1334.8,2306.3 1336.0,2306.6 1337.2,2306.8 1338.4,2306.7 1339.6,2306.4 1340.8,2305.9 1342.0,2305.2 1343.2,2304.4 1344.4,2303.4 1345.6,2302.2 1346.8,2301.0 1348.0,2299.7 1349.3,2298.5 1350.5,2297.2 1351.7,2296.0 1352.9,2295.0 1354.1,2294.0 1355.3,2293.2 1356.5,2292.6 1357.7,2292.2 1358.9,2292.0 1360.1,2292.0 1361.3,2292.3 1362.5,2292.8 1363.7,2293.4 1364.9,2294.3 1366.1,2295.2 1367.3,2296.4 1368.5,2297.6 1369.7,2298.8 1370.9,2300.1 1372.1,2301.4 1373.3,2302.6 1374.5,2303.7 1375.7,2304.6 1376.9,2305.5 1378.1,2306.1 1379.3,2306.5 1380.5,2306.8 1381.7,2306.8 1382.9,2306.6 1384.1,2306.1 1385.3,2305.5 1386.5,2304.7 1387.7,2303.7 1388.9,2302.6 1390.1,2301.5 1391.3,2300.2 1392.5,2298.9 1393.7,2297.7 1394.9,2296.4 1396.1,2295.3 1397.3,2294.3 1398.5,2293.5 1399.7,2292.8 1400.9,2292.3 1402.1,2292.1 1403.3,2292.0 1404.5,2292.2 1405.7,2292.6 1406.9,2293.2 1408.2,2293.9 1409.4,2294.9 1410.6,2296.0 1411.8,2297.1 1413.0,2298.4 1414.2,2299.7 1415.4,2300.9 1416.6,2302.1 1417.8,2303.3 1419.0,2304.3 1420.2,2305.2 1421.4,2305.9 1422.6,2306.4 1423.8,2306.7 1425.0,2306.8 1426.2,2306.7 1427.4,2306.3 1428.6,2305.8 1429.8,2305.0 1431.0,2304.1 1432.2,2303.0 1433.4,2301.9 1434.6,2300.6 1435.8,2299.4 1437.0,2298.1 1438.2,2296.9 1439.4,2295.7 1440.6,2294.7 1441.8,2293.8 1443.0,2293.0 1444.2,2292.5 1445.4,2292.1 1446.6,2292.0 1447.8,2292.1 1449.0,2292.4 1450.2,2292.9 1451.4,2293.6 1452.6,2294.5 1453.8,2295.6 1455.0,2296.7 1456.2,2297.9 1457.4,2299.2 1458.6,2300.5 1459.8,2301.7 1461.0,2302.9 1462.2,2304.0 1463.4,2304.9 1464.6,2305.7 1465.8,2306.2 1467.1,2306.6 1468.3,2306.8 1469.5,2306.7 1470.7,2306.5 1471.9,2306.0 1473.1,2305.3 1474.3,2304.4 1475.5,2303.4 1476.7,2302.3 1477.9,2301.1 1479.1,2299.8 1480.3,2298.6 1481.5,2297.3 1482.7,2296.1 1483.9,2295.0 1485.1,2294.1 1486.3,2293.3 1487.5,2292.6 1488.7,2292.2 1489.9,2292.0 1491.1,2292.0 1492.3,2292.3 1493.5,2292.7 1494.7,2293.4 1495.9,2294.2" fill="none" stroke="#3a2a7e" stroke-width="3.2" stroke-linejoin="round"/>
<polyline points="1319.2,2306.3 1320.4,2306.6 1321.6,2306.8 1322.8,2306.7 1324.0,2306.4 1325.2,2306.0 1326.4,2305.3 1327.6,2304.4 1328.8,2303.4 1330.0,2302.3 1331.2,2301.0 1332.4,2299.8 1333.6,2298.5 1334.8,2297.2 1336.0,2296.1 1337.2,2295.0 1338.4,2294.0 1339.6,2293.2 1340.8,2292.6 1342.0,2292.2 1343.2,2292.0 1344.4,2292.0 1345.6,2292.3 1346.8,2292.7 1348.0,2293.4 1349.3,2294.2 1350.5,2295.2 1351.7,2296.3 1352.9,2297.5 1354.1,2298.8 1355.3,2300.1 1356.5,2301.3 1357.7,2302.5 1358.9,2303.6 1360.1,2304.6 1361.3,2305.4 1362.5,2306.1 1363.7,2306.5 1364.9,2306.8 1366.1,2306.8 1367.3,2306.6 1368.5,2306.2 1369.7,2305.5 1370.9,2304.7 1372.1,2303.8 1373.3,2302.7 1374.5,2301.5 1375.7,2300.2 1376.9,2299.0 1378.1,2297.7 1379.3,2296.5 1380.5,2295.3 1381.7,2294.3 1382.9,2293.5 1384.1,2292.8 1385.3,2292.3 1386.5,2292.1 1387.7,2292.0 1388.9,2292.2 1390.1,2292.6 1391.3,2293.1 1392.5,2293.9 1393.7,2294.9 1394.9,2295.9 1396.1,2297.1 1397.3,2298.3 1398.5,2299.6 1399.7,2300.9 1400.9,2302.1 1402.1,2303.3 1403.3,2304.3 1404.5,2305.2 1405.7,2305.9 1406.9,2306.4 1408.2,2306.7 1409.4,2306.8 1410.6,2306.7 1411.8,2306.3 1413.0,2305.8 1414.2,2305.0 1415.4,2304.1 1416.6,2303.1 1417.8,2301.9 1419.0,2300.7 1420.2,2299.4 1421.4,2298.1 1422.6,2296.9 1423.8,2295.7 1425.0,2294.7 1426.2,2293.8 1427.4,2293.0 1428.6,2292.5 1429.8,2292.1 1431.0,2292.0 1432.2,2292.1 1433.4,2292.4 1434.6,2292.9 1435.8,2293.6 1437.0,2294.5 1438.2,2295.5 1439.4,2296.7 1440.6,2297.9 1441.8,2299.2 1443.0,2300.4 1444.2,2301.7 1445.4,2302.9 1446.6,2303.9 1447.8,2304.9 1449.0,2305.6 1450.2,2306.2 1451.4,2306.6 1452.6,2306.8 1453.8,2306.7 1455.0,2306.5 1456.2,2306.0 1457.4,2305.3 1458.6,2304.5 1459.8,2303.5 1461.0,2302.3 1462.2,2301.1 1463.4,2299.9 1464.6,2298.6 1465.8,2297.3 1467.1,2296.1 1468.3,2295.0 1469.5,2294.1 1470.7,2293.3 1471.9,2292.7 1473.1,2292.2 1474.3,2292.0 1475.5,2292.0 1476.7,2292.3 1477.9,2292.7 1479.1,2293.4 1480.3,2294.2 1481.5,2295.2 1482.7,2296.3 1483.9,2297.5 1485.1,2298.7 1486.3,2300.0 1487.5,2301.3 1488.7,2302.5 1489.9,2303.6 1491.1,2304.6 1492.3,2305.4 1493.5,2306.1 1494.7,2306.5 1495.9,2306.8" fill="none" stroke="#5a20b4" stroke-width="3.2" stroke-linejoin="round"/>
<rect x="1323.2" y="2239.2" width="111.1" height="49.6" rx="24.8" fill="#6b6bcd" stroke="#25205f" stroke-width="1.8"/>
<text x="1344.0" y="2272.9" font-size="26.5" fill="#fff" textLength="72.0" lengthAdjust="spacingAndGlyphs" text-anchor="start">NF-κB</text>
<path d="M1441 2289 V2255.1 H1478" fill="none" stroke="#3a2a7e" stroke-width="6.6"/>
<path d="M1501.2 2255.1L1476.2 2267.3L1476.2 2242.8Z" fill="#3a2a7e"/>
<polyline points="1298.0,2444.2 1299.2,2444.7 1300.4,2445.5 1301.6,2446.5 1302.8,2447.6 1304.0,2448.8 1305.2,2450.0 1306.4,2451.3 1307.6,2452.5 1308.8,2453.7 1310.0,2454.8 1311.2,2455.7 1312.4,2456.4 1313.6,2456.9 1314.8,2457.2 1316.0,2457.3 1317.2,2457.1 1318.4,2456.7 1319.6,2456.1 1320.8,2455.3 1322.0,2454.3 1323.3,2453.2 1324.5,2451.9 1325.7,2450.7 1326.9,2449.4 1328.1,2448.2 1329.3,2447.0 1330.5,2446.0 1331.7,2445.1 1332.9,2444.4 1334.1,2444.0 1335.3,2443.7 1336.5,2443.7 1337.7,2444.0 1338.9,2444.4 1340.1,2445.1 1341.3,2446.0 1342.5,2447.0 1343.7,2448.1 1344.9,2449.4 1346.1,2450.6 1347.3,2451.9 1348.5,2453.1 1349.7,2454.2 1350.9,2455.2 1352.1,2456.1 1353.3,2456.7 1354.5,2457.1 1355.7,2457.3 1356.9,2457.2 1358.1,2456.9 1359.3,2456.4 1360.5,2455.7 1361.7,2454.8 1362.9,2453.7 1364.1,2452.6 1365.3,2451.3 1366.5,2450.1 1367.7,2448.8 1368.9,2447.6 1370.1,2446.5 1371.3,2445.6 1372.5,2444.8 1373.8,2444.2 1375.0,2443.8 1376.2,2443.7 1377.4,2443.8 1378.6,2444.2 1379.8,2444.7 1381.0,2445.5 1382.2,2446.4 1383.4,2447.5 1384.6,2448.7 1385.8,2450.0 1387.0,2451.2 1388.2,2452.5 1389.4,2453.7 1390.6,2454.7 1391.8,2455.7 1393.0,2456.4 1394.2,2456.9 1395.4,2457.2 1396.6,2457.3 1397.8,2457.1 1399.0,2456.7 1400.2,2456.1 1401.4,2455.3 1402.6,2454.3 1403.8,2453.2 1405.0,2452.0 1406.2,2450.7 1407.4,2449.5 1408.6,2448.2 1409.8,2447.1 1411.0,2446.0 1412.2,2445.2 1413.4,2444.5 1414.6,2444.0 1415.8,2443.7 1417.0,2443.7 1418.2,2443.9 1419.4,2444.4 1420.6,2445.1 1421.8,2445.9 1423.0,2446.9 1424.3,2448.1 1425.5,2449.3 1426.7,2450.6 1427.9,2451.9 1429.1,2453.1 1430.3,2454.2 1431.5,2455.2 1432.7,2456.0 1433.9,2456.7 1435.1,2457.1 1436.3,2457.3 1437.5,2457.2 1438.7,2457.0 1439.9,2456.5 1441.1,2455.7 1442.3,2454.8 1443.5,2453.8 1444.7,2452.6 1445.9,2451.4 1447.1,2450.1 1448.3,2448.8 1449.5,2447.6 1450.7,2446.5 1451.9,2445.6 1453.1,2444.8 1454.3,2444.2 1455.5,2443.8 1456.7,2443.7 1457.9,2443.8 1459.1,2444.1 1460.3,2444.7 1461.5,2445.5 1462.7,2446.4 1463.9,2447.5 1465.1,2448.7 1466.3,2449.9 1467.5,2451.2 1468.7,2452.4 1469.9,2453.6 1471.1,2454.7 1472.3,2455.6 1473.5,2456.4 1474.8,2456.9 1476.0,2457.2 1477.2,2457.3 1478.4,2457.1 1479.6,2456.7 1480.8,2456.1 1482.0,2455.3 1483.2,2454.3 1484.4,2453.2 1485.6,2452.0 1486.8,2450.8 1488.0,2449.5 1489.2,2448.3 1490.4,2447.1 1491.6,2446.1 1492.8,2445.2 1494.0,2444.5 1495.2,2444.0 1496.4,2443.7 1497.6,2443.7 1498.8,2443.9" fill="none" stroke="#5e0a66" stroke-width="3.2" stroke-linejoin="round"/>
<polyline points="1298.0,2456.9 1299.2,2457.2 1300.4,2457.3 1301.6,2457.1 1302.8,2456.7 1304.0,2456.1 1305.2,2455.3 1306.4,2454.3 1307.6,2453.2 1308.8,2452.0 1310.0,2450.7 1311.2,2449.4 1312.4,2448.2 1313.6,2447.1 1314.8,2446.0 1316.0,2445.1 1317.2,2444.5 1318.4,2444.0 1319.6,2443.7 1320.8,2443.7 1322.0,2444.0 1323.3,2444.4 1324.5,2445.1 1325.7,2445.9 1326.9,2447.0 1328.1,2448.1 1329.3,2449.3 1330.5,2450.6 1331.7,2451.9 1332.9,2453.1 1334.1,2454.2 1335.3,2455.2 1336.5,2456.0 1337.7,2456.7 1338.9,2457.1 1340.1,2457.3 1341.3,2457.2 1342.5,2457.0 1343.7,2456.5 1344.9,2455.7 1346.1,2454.8 1347.3,2453.8 1348.5,2452.6 1349.7,2451.4 1350.9,2450.1 1352.1,2448.8 1353.3,2447.6 1354.5,2446.5 1355.7,2445.6 1356.9,2444.8 1358.1,2444.2 1359.3,2443.8 1360.5,2443.7 1361.7,2443.8 1362.9,2444.1 1364.1,2444.7 1365.3,2445.5 1366.5,2446.4 1367.7,2447.5 1368.9,2448.7 1370.1,2449.9 1371.3,2451.2 1372.5,2452.5 1373.8,2453.6 1375.0,2454.7 1376.2,2455.6 1377.4,2456.4 1378.6,2456.9 1379.8,2457.2 1381.0,2457.3 1382.2,2457.1 1383.4,2456.7 1384.6,2456.1 1385.8,2455.3 1387.0,2454.3 1388.2,2453.2 1389.4,2452.0 1390.6,2450.8 1391.8,2449.5 1393.0,2448.2 1394.2,2447.1 1395.4,2446.1 1396.6,2445.2 1397.8,2444.5 1399.0,2444.0 1400.2,2443.7 1401.4,2443.7 1402.6,2443.9 1403.8,2444.4 1405.0,2445.1 1406.2,2445.9 1407.4,2446.9 1408.6,2448.1 1409.8,2449.3 1411.0,2450.6 1412.2,2451.8 1413.4,2453.0 1414.6,2454.2 1415.8,2455.2 1417.0,2456.0 1418.2,2456.7 1419.4,2457.1 1420.6,2457.3 1421.8,2457.2 1423.0,2457.0 1424.3,2456.5 1425.5,2455.8 1426.7,2454.9 1427.9,2453.8 1429.1,2452.7 1430.3,2451.4 1431.5,2450.1 1432.7,2448.9 1433.9,2447.7 1435.1,2446.6 1436.3,2445.6 1437.5,2444.8 1438.7,2444.2 1439.9,2443.8 1441.1,2443.7 1442.3,2443.8 1443.5,2444.1 1444.7,2444.7 1445.9,2445.4 1447.1,2446.4 1448.3,2447.5 1449.5,2448.6 1450.7,2449.9 1451.9,2451.2 1453.1,2452.4 1454.3,2453.6 1455.5,2454.7 1456.7,2455.6 1457.9,2456.3 1459.1,2456.9 1460.3,2457.2 1461.5,2457.3 1462.7,2457.1 1463.9,2456.8 1465.1,2456.2 1466.3,2455.3 1467.5,2454.4 1468.7,2453.3 1469.9,2452.1 1471.1,2450.8 1472.3,2449.5 1473.5,2448.3 1474.8,2447.1 1476.0,2446.1 1477.2,2445.2 1478.4,2444.5 1479.6,2444.0 1480.8,2443.7 1482.0,2443.7 1483.2,2443.9 1484.4,2444.4 1485.6,2445.0 1486.8,2445.9 1488.0,2446.9 1489.2,2448.0 1490.4,2449.2 1491.6,2450.5 1492.8,2451.8 1494.0,2453.0 1495.2,2454.1 1496.4,2455.1 1497.6,2456.0 1498.8,2456.6" fill="none" stroke="#8a2a92" stroke-width="3.2" stroke-linejoin="round"/>
<rect x="1308.9" y="2396.1" width="101.1" height="44.8" rx="22.4" fill="#9062c2" stroke="#3b1f5b" stroke-width="1.8"/>
<text x="1327.6" y="2427.6" font-size="28" fill="#fff" textLength="68.0" lengthAdjust="spacingAndGlyphs" text-anchor="start">NFAT</text>
<circle cx="1416.5" cy="2389.6" r="17.7" fill="#b96e00" stroke="#7a4a0a" stroke-width="1.2"/>
<circle cx="1414.8" cy="2387.7999999999997" r="15.6" fill="#de8b00"/>
<circle cx="1412.1" cy="2383.1" r="3.2" fill="#eeb860"/>
<circle cx="1416.5" cy="2425.7" r="17.7" fill="#b96e00" stroke="#7a4a0a" stroke-width="1.2"/>
<circle cx="1414.8" cy="2423.8999999999996" r="15.6" fill="#de8b00"/>
<circle cx="1412.1" cy="2419.2" r="3.2" fill="#eeb860"/>
<path d="M1450.4 2441.6 V2406.5 H1484" fill="none" stroke="#6e1a78" stroke-width="5.8"/>
<path d="M1504.5 2406.5L1482.0 2418.0L1482.0 2395.0Z" fill="#6e1a78"/>
<text x="333.8" y="1779.1" font-size="28.5" fill="#2e2e2e" textLength="138.0" lengthAdjust="spacingAndGlyphs" text-anchor="start">PDCNP-Ab</text>
<text x="396.2" y="2004.7" font-size="26.5" fill="#2e2e2e" textLength="58.5" lengthAdjust="spacingAndGlyphs" text-anchor="start">PD-1</text>
<text x="752.9" y="2004.7" font-size="26.5" fill="#2e2e2e" textLength="122.5" lengthAdjust="spacingAndGlyphs" text-anchor="start">Receptor-</text>
<text x="754.5" y="2037.0" font-size="26.5" fill="#2e2e2e" textLength="120.2" lengthAdjust="spacingAndGlyphs" text-anchor="start">mediated</text>
<text x="735.7" y="2069.5" font-size="26.5" fill="#2e2e2e" textLength="155.3" lengthAdjust="spacingAndGlyphs" text-anchor="start">endocytosis</text>
<text x="1468.8" y="2032.6" font-size="29" fill="#e8892c" textLength="218.0" lengthAdjust="spacingAndGlyphs" text-anchor="start">T Cell Cytoplasm</text>
<text x="613.7" y="2399.6" font-size="26.5" fill="#2e2e2e" textLength="180.0" lengthAdjust="spacingAndGlyphs" text-anchor="start">Ca<tspan font-size="17" dy="-10">2+</tspan><tspan dy="10"> and PMA</tspan></text>
<text x="656.9" y="2431.6" font-size="26.5" fill="#2e2e2e" textLength="93.5" lengthAdjust="spacingAndGlyphs" text-anchor="start">release</text>
<text x="1098.0" y="2168.8" font-size="28.5" fill="#2e2e2e" textLength="53.6" lengthAdjust="spacingAndGlyphs" text-anchor="start">PKC</text>
<text x="1252.9" y="2168.8" font-size="28.5" fill="#2e2e2e" textLength="58.0" lengthAdjust="spacingAndGlyphs" text-anchor="start">IκBα</text>
<text x="1525.6" y="2187.4" font-size="27" fill="#e8892c" textLength="105.0" lengthAdjust="spacingAndGlyphs" text-anchor="start">Nucleus</text>
<text x="1530.8" y="2251.5" font-size="27" fill="#2e2e2e" textLength="178.3" lengthAdjust="spacingAndGlyphs" text-anchor="start">Inflammation,</text>
<text x="1542.8" y="2284.3" font-size="27" fill="#2e2e2e" textLength="154.3" lengthAdjust="spacingAndGlyphs" text-anchor="start">survival and</text>
<text x="1541.6" y="2316.4" font-size="27" fill="#2e2e2e" textLength="156.3" lengthAdjust="spacingAndGlyphs" text-anchor="start">proliferation</text>
<text x="1435.7" y="2385.3" font-size="28.5" fill="#2e2e2e" textLength="49.0" lengthAdjust="spacingAndGlyphs" text-anchor="start">AP1</text>
<text x="1551.6" y="2380.5" font-size="27" fill="#2e2e2e" textLength="111.4" lengthAdjust="spacingAndGlyphs" text-anchor="start">Cytokine</text>
<text x="1510.8" y="2411.8" font-size="27" fill="#2e2e2e" textLength="193.1" lengthAdjust="spacingAndGlyphs" text-anchor="start">production and</text>
<text x="1528.4" y="2444.6" font-size="27" fill="#2e2e2e" textLength="156.7" lengthAdjust="spacingAndGlyphs" text-anchor="start">proliferation</text>
</svg></body></html>
